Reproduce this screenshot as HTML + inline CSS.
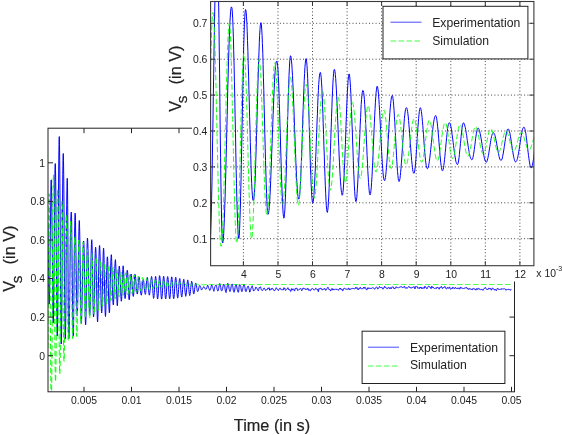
<!DOCTYPE html>
<html><head><meta charset="utf-8"><title>Vs plot</title>
<style>html,body{margin:0;padding:0;background:#fff}svg{display:block}text{font-family:"Liberation Sans",sans-serif;fill:#222}.lb{stroke:#222;stroke-width:0.2px}.tk{font-size:10.4px}.lg{font-size:12.2px}.lb{font-size:16.3px}</style></head><body>
<svg width="562" height="435" viewBox="0 0 562 435">
<rect width="562" height="435" fill="#fff"/>
<defs><clipPath id="cm"><rect x="48.0" y="128.2" width="466.5" height="263.6"/></clipPath>
<clipPath id="ci"><rect x="210.6" y="1.5" width="323.3" height="264.2"/></clipPath></defs>
<g id="main">
<g clip-path="url(#cm)" fill="none" stroke-linejoin="round">
<path d="M47.9,224.9 L48.1,238.8 L48.3,254.1 L48.5,269.4 L48.7,283.2 L48.9,294.2 L49.0,301.4 L49.2,304.1 L49.4,301.8 L49.6,294.4 L49.8,282.5 L50.0,267.0 L50.2,249.2 L50.4,230.6 L50.6,213.0 L50.8,197.9 L50.9,186.6 L51.1,180.3 L51.3,179.8 L51.5,185.5 L51.7,196.7 L51.9,212.5 L52.1,231.8 L52.3,252.9 L52.5,274.0 L52.7,293.1 L52.8,308.5 L53.0,318.8 L53.2,322.9 L53.4,320.1 L53.6,310.7 L53.8,295.6 L54.0,276.0 L54.2,253.4 L54.4,229.9 L54.6,207.4 L54.7,187.9 L54.9,173.3 L55.1,165.0 L55.3,163.6 L55.5,169.2 L55.7,181.8 L55.9,200.4 L56.1,223.4 L56.3,248.9 L56.5,274.5 L56.6,298.1 L56.8,317.3 L57.0,330.5 L57.2,336.1 L57.4,333.4 L57.6,322.5 L57.8,304.4 L58.0,280.4 L58.2,252.5 L58.4,223.2 L58.5,194.8 L58.7,170.0 L58.9,150.9 L59.1,139.2 L59.3,136.6 L59.5,144.5 L59.7,160.7 L59.9,183.7 L60.1,211.7 L60.3,242.0 L60.4,272.1 L60.6,299.4 L60.8,321.6 L61.0,336.9 L61.2,344.0 L61.4,341.9 L61.6,331.1 L61.8,312.9 L62.0,289.0 L62.2,261.5 L62.3,233.1 L62.5,206.1 L62.7,182.9 L62.9,165.5 L63.1,155.4 L63.3,153.5 L63.5,160.2 L63.7,174.4 L63.9,194.9 L64.1,219.8 L64.2,247.0 L64.4,274.0 L64.6,298.6 L64.8,318.6 L65.0,332.4 L65.2,338.9 L65.4,338.0 L65.6,329.7 L65.8,315.0 L66.0,295.1 L66.1,272.1 L66.3,247.8 L66.5,224.6 L66.7,204.5 L66.9,189.4 L67.1,180.4 L67.3,178.3 L67.5,186.3 L67.7,205.3 L67.9,232.3 L68.0,263.1 L68.2,293.0 L68.4,317.7 L68.6,333.6 L68.8,338.7 L69.0,336.4 L69.2,330.1 L69.4,320.3 L69.6,307.9 L69.8,293.4 L69.9,278.0 L70.1,262.5 L70.3,247.8 L70.5,234.8 L70.7,224.3 L70.9,216.8 L71.1,212.7 L71.3,212.1 L71.5,214.6 L71.7,222.6 L71.8,235.4 L72.0,251.9 L72.2,270.5 L72.4,289.3 L72.6,306.7 L72.8,321.1 L73.0,331.2 L73.2,336.1 L73.4,334.6 L73.6,326.7 L73.7,313.6 L73.9,296.7 L74.1,277.7 L74.3,258.6 L74.5,241.0 L74.7,226.8 L74.9,217.2 L75.1,213.2 L75.3,214.8 L75.5,220.6 L75.6,230.0 L75.8,242.2 L76.0,256.1 L76.2,270.6 L76.4,284.7 L76.6,297.0 L76.8,306.8 L77.0,313.2 L77.2,315.9 L77.4,315.3 L77.5,311.6 L77.7,304.1 L77.9,293.7 L78.1,281.1 L78.3,267.4 L78.5,253.9 L78.7,241.4 L78.9,231.1 L79.1,223.9 L79.3,220.5 L79.4,221.5 L79.6,227.2 L79.8,236.8 L80.0,249.6 L80.2,264.4 L80.4,279.8 L80.6,294.5 L80.8,307.1 L81.0,316.6 L81.2,322.2 L81.3,323.3 L81.5,321.1 L81.7,316.2 L81.9,309.1 L82.1,300.3 L82.3,290.5 L82.5,280.2 L82.7,270.0 L82.9,260.6 L83.1,252.6 L83.2,246.4 L83.4,242.4 L83.6,241.0 L83.8,241.8 L84.0,245.9 L84.2,253.5 L84.4,263.8 L84.6,275.9 L84.8,288.7 L85.0,301.1 L85.1,311.7 L85.3,319.8 L85.5,324.5 L85.7,324.9 L85.9,320.6 L86.1,312.1 L86.3,300.5 L86.5,286.9 L86.7,272.7 L86.9,259.5 L87.0,248.7 L87.2,241.3 L87.4,238.1 L87.6,239.0 L87.8,242.6 L88.0,248.6 L88.2,256.6 L88.4,265.9 L88.6,276.1 L88.8,286.2 L88.9,295.6 L89.1,303.7 L89.3,309.9 L89.5,313.8 L89.7,315.2 L89.9,314.2 L90.1,310.0 L90.3,302.9 L90.5,293.5 L90.7,282.8 L90.8,271.6 L91.0,260.9 L91.2,251.5 L91.4,244.5 L91.6,240.4 L91.8,239.7 L92.0,243.1 L92.2,250.3 L92.4,260.4 L92.6,272.5 L92.7,285.2 L92.9,297.2 L93.1,307.1 L93.3,313.9 L93.5,316.9 L93.7,316.4 L93.9,312.9 L94.1,306.8 L94.3,298.7 L94.5,289.2 L94.6,279.0 L94.8,269.1 L95.0,260.4 L95.2,253.4 L95.4,248.9 L95.6,247.2 L95.8,248.1 L96.0,252.3 L96.2,259.6 L96.4,269.3 L96.5,280.4 L96.7,291.9 L96.9,302.8 L97.1,312.0 L97.3,318.6 L97.5,321.9 L97.7,321.3 L97.9,316.8 L98.1,309.4 L98.3,299.6 L98.4,288.4 L98.6,276.8 L98.8,265.9 L99.0,256.6 L99.2,249.8 L99.4,246.0 L99.6,245.5 L99.8,248.0 L100.0,253.0 L100.2,260.1 L100.3,268.5 L100.5,277.8 L100.7,287.1 L100.9,295.7 L101.1,302.9 L101.3,308.4 L101.5,311.6 L101.7,313.0 L101.9,311.5 L102.1,306.9 L102.2,299.8 L102.4,290.7 L102.6,280.5 L102.8,270.3 L103.0,261.2 L103.2,254.0 L103.4,249.5 L103.6,248.1 L103.8,250.2 L104.0,255.5 L104.1,263.4 L104.3,273.2 L104.5,283.9 L104.7,294.4 L104.9,303.8 L105.1,311.0 L105.3,315.4 L105.5,316.5 L105.7,314.3 L105.9,309.4 L106.0,302.2 L106.2,293.6 L106.4,284.3 L106.6,275.3 L106.8,267.5 L107.0,261.5 L107.2,257.8 L107.4,256.8 L107.6,258.0 L107.8,261.7 L107.9,267.5 L108.1,275.0 L108.3,283.3 L108.5,291.9 L108.7,299.7 L108.9,306.1 L109.1,310.6 L109.3,312.8 L109.5,312.2 L109.7,308.9 L109.8,303.2 L110.0,295.7 L110.2,287.1 L110.4,278.3 L110.6,270.1 L110.8,263.0 L111.0,257.8 L111.2,254.9 L111.4,254.7 L111.6,257.2 L111.7,261.6 L111.9,267.6 L112.1,274.8 L112.3,282.4 L112.5,289.7 L112.7,296.1 L112.9,301.0 L113.1,304.0 L113.3,305.0 L113.5,304.6 L113.6,302.2 L113.8,298.3 L114.0,292.9 L114.2,286.8 L114.4,280.3 L114.6,274.0 L114.8,268.4 L115.0,263.8 L115.2,260.9 L115.4,259.6 L115.5,260.2 L115.7,263.0 L115.9,267.7 L116.1,273.9 L116.3,280.9 L116.5,288.1 L116.7,294.8 L116.9,300.3 L117.1,304.0 L117.3,305.7 L117.4,305.0 L117.6,302.5 L117.8,298.6 L118.0,293.5 L118.2,287.7 L118.4,281.9 L118.6,276.4 L118.8,271.8 L119.0,268.3 L119.2,266.4 L119.3,266.0 L119.5,266.9 L119.7,269.4 L119.9,273.1 L120.1,277.6 L120.3,282.6 L120.5,287.8 L120.7,292.5 L120.9,296.6 L121.1,299.5 L121.2,301.1 L121.4,301.2 L121.6,299.6 L121.8,296.2 L122.0,291.4 L122.2,285.7 L122.4,279.8 L122.6,274.3 L122.8,269.8 L123.0,266.8 L123.1,265.8 L123.3,266.9 L123.5,269.5 L123.7,273.3 L123.9,277.9 L124.1,282.9 L124.3,287.8 L124.5,292.3 L124.7,295.7 L124.9,297.9 L125.0,298.6 L125.2,298.4 L125.4,297.1 L125.6,294.9 L125.8,292.0 L126.0,288.5 L126.2,284.7 L126.4,280.9 L126.6,277.4 L126.8,274.5 L126.9,272.2 L127.1,270.8 L127.3,270.2 L127.5,270.8 L127.7,272.8 L127.9,276.1 L128.1,280.3 L128.3,284.9 L128.5,289.5 L128.7,293.7 L128.8,297.0 L129.0,299.1 L129.2,299.8 L129.4,299.1 L129.6,297.0 L129.8,293.9 L130.0,290.2 L130.2,286.1 L130.4,282.1 L130.6,278.6 L130.7,276.0 L130.9,274.4 L131.1,274.0 L131.3,274.4 L131.5,275.7 L131.7,277.7 L131.9,280.3 L132.1,283.2 L132.3,286.3 L132.5,289.2 L132.6,291.9 L132.8,294.0 L133.0,295.5 L133.2,296.3 L133.4,296.4 L133.6,295.2 L133.8,292.7 L134.0,289.2 L134.2,285.3 L134.4,281.4 L134.5,278.0 L134.7,275.5 L134.9,274.3 L135.1,274.4 L135.3,275.3 L135.5,276.7 L135.7,278.7 L135.9,281.1 L136.1,283.7 L136.3,286.2 L136.4,288.5 L136.6,290.6 L136.8,292.3 L137.0,293.5 L137.2,294.0 L137.4,294.0 L137.6,293.1 L137.8,291.1 L138.0,288.5 L138.2,285.5 L138.3,282.6 L138.5,280.1 L138.7,278.3 L138.9,277.2 L139.1,277.1 L139.3,277.7 L139.5,278.9 L139.7,280.6 L139.9,282.8 L140.1,285.2 L140.2,287.5 L140.4,289.8 L140.6,291.9 L140.8,293.5 L141.0,294.7 L141.2,295.2 L141.4,295.1 L141.6,294.2 L141.8,292.6 L142.0,290.5 L142.1,288.1 L142.3,285.7 L142.5,283.5 L142.7,281.6 L142.9,280.2 L143.1,279.6 L143.3,279.5 L143.5,280.0 L143.7,281.0 L143.9,282.5 L144.0,284.4 L144.2,286.5 L144.4,288.7 L144.6,290.8 L144.8,292.5 L145.0,293.7 L145.2,294.3 L145.4,294.3 L145.6,293.6 L145.8,292.3 L145.9,290.4 L146.1,288.2 L146.3,285.7 L146.5,283.1 L146.7,280.8 L146.9,278.9 L147.1,277.8 L147.3,277.4 L147.5,277.9 L147.7,279.0 L147.8,280.6 L148.0,282.7 L148.2,285.2 L148.4,287.8 L148.6,290.3 L148.8,292.3 L149.0,293.9 L149.2,294.9 L149.4,295.2 L149.6,294.8 L149.7,293.8 L149.9,292.3 L150.1,290.4 L150.3,288.2 L150.5,285.8 L150.7,283.4 L150.9,281.0 L151.1,279.0 L151.3,277.5 L151.5,276.6 L151.6,276.4 L151.8,277.2 L152.0,278.8 L152.2,281.2 L152.4,284.0 L152.6,287.2 L152.8,290.4 L153.0,293.3 L153.2,295.7 L153.4,297.5 L153.5,298.4 L153.7,298.3 L153.9,297.2 L154.1,295.3 L154.3,292.7 L154.5,289.6 L154.7,286.3 L154.9,283.1 L155.1,280.3 L155.3,278.2 L155.4,276.8 L155.6,276.3 L155.8,276.8 L156.0,278.4 L156.2,280.7 L156.4,283.5 L156.6,286.7 L156.8,290.0 L157.0,293.2 L157.2,295.9 L157.3,297.9 L157.5,298.9 L157.7,298.9 L157.9,297.9 L158.1,296.0 L158.3,293.4 L158.5,290.2 L158.7,286.8 L158.9,283.5 L159.1,280.5 L159.2,278.1 L159.4,276.4 L159.6,275.7 L159.8,276.0 L160.0,277.5 L160.2,279.9 L160.4,283.0 L160.6,286.4 L160.8,289.9 L161.0,293.1 L161.1,295.8 L161.3,297.8 L161.5,299.0 L161.7,299.1 L161.9,298.2 L162.1,296.4 L162.3,293.9 L162.5,290.8 L162.7,287.4 L162.9,284.0 L163.0,280.9 L163.2,278.5 L163.4,276.8 L163.6,276.2 L163.8,276.5 L164.0,277.8 L164.2,279.9 L164.4,282.7 L164.6,285.9 L164.8,289.3 L164.9,292.5 L165.1,295.3 L165.3,297.4 L165.5,298.6 L165.7,299.0 L165.9,298.3 L166.1,296.7 L166.3,294.2 L166.5,291.2 L166.7,287.9 L166.8,284.6 L167.0,281.6 L167.2,279.1 L167.4,277.3 L167.6,276.6 L167.8,276.7 L168.0,277.9 L168.2,279.9 L168.4,282.6 L168.6,285.6 L168.7,289.0 L168.9,292.2 L169.1,295.1 L169.3,297.2 L169.5,298.5 L169.7,298.9 L169.9,298.4 L170.1,296.9 L170.3,294.7 L170.5,291.8 L170.6,288.6 L170.8,285.3 L171.0,282.2 L171.2,279.7 L171.4,277.9 L171.6,276.9 L171.8,276.9 L172.0,277.9 L172.2,279.7 L172.4,282.3 L172.5,285.4 L172.7,288.6 L172.9,291.8 L173.1,294.6 L173.3,296.8 L173.5,298.2 L173.7,298.7 L173.9,298.2 L174.1,296.8 L174.3,294.7 L174.4,292.0 L174.6,288.9 L174.8,285.8 L175.0,282.8 L175.2,280.3 L175.4,278.4 L175.6,277.4 L175.8,277.2 L176.0,278.2 L176.2,279.9 L176.3,282.3 L176.5,285.2 L176.7,288.3 L176.9,291.3 L177.1,294.0 L177.3,296.2 L177.5,297.6 L177.7,298.1 L177.9,297.7 L178.1,296.5 L178.2,294.6 L178.4,292.2 L178.6,289.4 L178.8,286.5 L179.0,283.7 L179.2,281.3 L179.4,279.6 L179.6,278.7 L179.8,278.5 L180.0,279.1 L180.1,280.6 L180.3,282.7 L180.5,285.2 L180.7,288.0 L180.9,290.8 L181.1,293.3 L181.3,295.3 L181.5,296.6 L181.7,297.1 L181.9,296.9 L182.0,295.9 L182.2,294.2 L182.4,292.1 L182.6,289.5 L182.8,286.8 L183.0,284.2 L183.2,282.1 L183.4,280.5 L183.6,279.5 L183.8,279.2 L183.9,279.7 L184.1,280.9 L184.3,282.8 L184.5,285.1 L184.7,287.6 L184.9,290.0 L185.1,292.3 L185.3,294.1 L185.5,295.6 L185.7,296.3 L185.8,296.3 L186.0,295.5 L186.2,294.1 L186.4,292.1 L186.6,289.9 L186.8,287.5 L187.0,285.3 L187.2,283.2 L187.4,281.4 L187.6,280.3 L187.7,279.9 L187.9,280.3 L188.1,281.5 L188.3,283.0 L188.5,284.9 L188.7,287.1 L188.9,289.6 L189.1,291.8 L189.3,293.6 L189.5,294.8 L189.6,295.5 L189.8,295.5 L190.0,294.8 L190.2,293.5 L190.4,291.6 L190.6,289.5 L190.8,287.5 L191.0,285.5 L191.2,283.8 L191.4,282.4 L191.5,281.4 L191.7,281.0 L191.9,281.4 L192.1,282.3 L192.3,283.9 L192.5,285.5 L192.7,287.3 L192.9,288.9 L193.1,290.6 L193.3,292.1 L193.4,293.3 L193.6,293.9 L193.8,294.0 L194.0,293.5 L194.2,292.5 L194.4,291.0 L194.6,289.3 L194.8,287.7 L195.0,286.2 L195.2,284.9 L195.3,284.0 L195.5,283.4 L195.7,283.3 L195.9,283.3 L196.1,283.7 L196.3,284.4 L196.5,285.6 L196.7,287.1 L196.9,288.5 L197.1,289.7 L197.2,290.6 L197.4,291.2 L197.6,291.5 L197.8,291.5 L198.0,291.3 L198.2,290.7 L198.4,289.9 L198.6,289.1 L198.8,288.1 L199.0,287.2 L199.1,286.5 L199.3,286.0 L199.5,285.7 L199.7,285.4 L199.9,285.6 L200.1,286.0 L200.3,286.4 L200.5,287.0 L200.7,287.3 L200.9,287.9 L201.0,288.5 L201.2,289.4 L201.4,289.9 L201.6,290.0 L201.8,289.7 L202.0,289.4 L202.2,289.0 L202.4,288.6 L202.6,288.4 L202.8,288.1 L202.9,287.9 L203.1,287.6 L203.3,287.3 L203.5,286.8 L203.7,286.6 L203.9,286.8 L204.1,287.4 L204.3,287.7 L204.5,287.7 L204.7,287.6 L204.8,288.0 L205.0,288.4 L205.2,288.9 L205.4,289.0 L205.6,289.2 L205.8,289.2 L206.0,289.2 L206.2,289.1 L206.4,289.0 L206.6,288.6 L206.7,288.1 L206.9,287.5 L207.1,286.9 L207.3,286.1 L207.5,285.5 L207.7,285.2 L207.9,285.5 L208.1,285.9 L208.3,286.5 L208.5,287.0 L208.6,287.5 L208.8,287.9 L209.0,288.5 L209.2,289.1 L209.4,290.0 L209.6,290.3 L209.8,290.4 L210.0,290.1 L210.2,290.0 L210.4,289.8 L210.5,289.5 L210.7,288.8 L210.9,287.9 L211.1,286.6 L211.3,285.8 L211.5,285.0 L211.7,284.9 L211.9,284.9 L212.1,285.6 L212.3,286.3 L212.4,286.7 L212.6,287.1 L212.8,287.7 L213.0,288.4 L213.2,289.0 L213.4,289.7 L213.6,290.6 L213.8,291.2 L214.0,291.3 L214.2,290.5 L214.3,289.6 L214.5,288.5 L214.7,287.6 L214.9,286.7 L215.1,286.2 L215.3,285.7 L215.5,285.5 L215.7,285.3 L215.9,285.0 L216.1,284.9 L216.2,284.9 L216.4,285.4 L216.6,286.4 L216.8,287.6 L217.0,288.7 L217.2,289.4 L217.4,290.3 L217.6,290.8 L217.8,291.1 L218.0,291.0 L218.1,290.8 L218.3,290.4 L218.5,289.7 L218.7,288.4 L218.9,287.2 L219.1,286.1 L219.3,285.2 L219.5,284.2 L219.7,283.6 L219.9,283.5 L220.0,284.0 L220.2,284.7 L220.4,285.3 L220.6,286.2 L220.8,287.6 L221.0,289.1 L221.2,290.3 L221.4,290.7 L221.6,290.7 L221.8,290.6 L221.9,290.6 L222.1,290.5 L222.3,290.3 L222.5,289.4 L222.7,288.4 L222.9,287.1 L223.1,286.1 L223.3,285.1 L223.5,284.6 L223.7,284.3 L223.8,284.6 L224.0,284.7 L224.2,285.1 L224.4,284.9 L224.6,285.3 L224.8,286.1 L225.0,288.0 L225.2,289.7 L225.4,291.0 L225.6,291.4 L225.7,292.2 L225.9,292.4 L226.1,292.6 L226.3,291.5 L226.5,290.3 L226.7,289.0 L226.9,288.1 L227.1,287.0 L227.3,285.7 L227.5,284.3 L227.6,283.5 L227.8,283.3 L228.0,283.5 L228.2,283.8 L228.4,284.2 L228.6,285.3 L228.8,286.7 L229.0,288.2 L229.2,289.2 L229.4,290.1 L229.5,290.6 L229.7,291.2 L229.9,291.5 L230.1,291.5 L230.3,291.0 L230.5,290.5 L230.7,289.4 L230.9,288.2 L231.1,286.8 L231.3,285.8 L231.4,285.3 L231.6,284.9 L231.8,284.5 L232.0,284.1 L232.2,284.0 L232.4,284.7 L232.6,285.6 L232.8,286.7 L233.0,287.7 L233.2,289.2 L233.3,290.5 L233.5,291.4 L233.7,291.8 L233.9,292.2 L234.1,292.3 L234.3,291.8 L234.5,291.2 L234.7,289.9 L234.9,288.9 L235.1,287.4 L235.2,286.5 L235.4,285.8 L235.6,285.2 L235.8,284.7 L236.0,284.3 L236.2,284.5 L236.4,285.1 L236.6,286.1 L236.8,287.0 L237.0,288.2 L237.1,289.0 L237.3,289.9 L237.5,290.5 L237.7,291.2 L237.9,291.8 L238.1,292.0 L238.3,292.3 L238.5,291.9 L238.7,291.0 L238.9,289.4 L239.0,287.3 L239.2,285.9 L239.4,284.9 L239.6,284.8 L239.8,284.6 L240.0,284.9 L240.2,285.2 L240.4,285.5 L240.6,285.9 L240.8,286.6 L240.9,287.8 L241.1,288.9 L241.3,290.2 L241.5,290.9 L241.7,291.5 L241.9,291.5 L242.1,291.5 L242.3,291.0 L242.5,290.3 L242.7,289.3 L242.8,288.4 L243.0,287.6 L243.2,286.7 L243.4,285.8 L243.6,285.0 L243.8,284.4 L244.0,284.1 L244.2,284.5 L244.4,285.2 L244.6,285.9 L244.7,286.4 L244.9,287.2 L245.1,288.8 L245.3,290.2 L245.5,291.3 L245.7,291.2 L245.9,291.4 L246.1,291.2 L246.3,291.3 L246.5,290.6 L246.6,290.0 L246.8,289.1 L247.0,288.5 L247.2,287.8 L247.4,287.1 L247.6,286.6 L247.8,286.3 L248.0,286.1 L248.2,286.1 L248.4,286.2 L248.5,286.9 L248.7,287.5 L248.9,288.4 L249.1,289.0 L249.3,290.1 L249.5,290.9 L249.7,292.1 L249.9,292.1 L250.1,291.7 L250.3,290.8 L250.4,290.5 L250.6,290.0 L250.8,289.3 L251.0,288.2 L251.2,287.6 L251.4,287.4 L251.6,287.5 L251.8,286.9 L252.0,286.2 L252.2,285.7 L252.3,286.2 L252.5,286.8 L252.7,287.7 L252.9,288.1 L253.1,289.3 L253.3,290.2 L253.5,291.0 L253.7,290.9 L253.9,290.7 L254.1,290.3 L254.2,290.4 L254.4,290.1 L254.6,290.0 L254.8,289.8 L255.0,289.7 L255.2,289.1 L255.4,288.3 L255.6,287.4 L255.8,287.1 L256.0,287.0 L256.1,287.2 L256.3,287.6 L256.5,287.7 L256.7,288.1 L256.9,288.2 L257.1,288.7 L257.3,289.2 L257.5,289.7 L257.7,290.0 L257.9,290.3 L258.0,290.8 L258.2,290.8 L258.4,290.7 L258.6,290.0 L258.8,289.4 L259.0,288.4 L259.2,287.6 L259.4,287.3 L259.6,287.5 L259.8,287.6 L259.9,287.4 L260.1,287.0 L260.3,286.8 L260.5,286.9 L260.7,287.3 L260.9,288.3 L261.1,289.1 L261.3,289.7 L261.5,289.8 L261.7,289.9 L261.8,290.0 L262.0,290.0 L262.2,290.3 L262.4,290.5 L262.6,290.6 L262.8,290.1 L263.0,289.7 L263.2,289.2 L263.4,289.0 L263.6,288.7 L263.7,288.4 L263.9,288.0 L264.1,287.9 L264.3,288.0 L264.5,288.5 L264.7,288.9 L264.9,289.3 L265.1,289.4 L265.3,289.8 L265.5,290.2 L265.6,290.6 L265.8,290.4 L266.0,290.1 L266.2,289.8 L266.4,290.0 L266.6,289.9 L266.8,289.7 L267.0,289.2 L267.2,289.2 L267.4,289.3 L267.5,289.1 L267.7,288.7 L267.9,288.0 L268.1,287.9 L268.3,288.1 L268.5,288.5 L268.7,288.6 L268.9,288.1 L269.1,287.7 L269.3,287.9 L269.4,288.8 L269.6,290.0 L269.8,290.3 L270.0,290.2 L270.2,289.7 L270.4,289.7 L270.6,289.5 L270.8,289.2 L271.0,288.8 L271.2,288.8 L271.3,289.2 L271.5,289.4 L271.7,288.9 L271.9,288.2 L272.1,288.1 L272.3,288.3 L272.5,288.6 L272.7,288.5 L272.9,288.7 L273.1,289.1 L273.2,289.7 L273.4,289.9 L273.6,289.8 L273.8,289.8 L274.0,290.2 L274.2,290.8 L274.4,290.9 L274.6,290.7 L274.8,290.3 L275.0,290.2 L275.1,289.9 L275.3,289.6 L275.5,289.2 L275.7,288.8 L275.9,288.3 L276.1,287.8 L276.3,287.7 L276.5,288.0 L276.7,288.6 L276.9,289.1 L277.0,289.3 L277.2,289.2 L277.4,289.2 L277.6,289.3 L277.8,289.6 L278.0,289.9 L278.2,290.2 L278.4,290.6 L278.6,290.3 L278.8,290.0 L278.9,289.4 L279.1,289.3 L279.3,289.0 L279.5,288.7 L279.7,288.3 L279.9,288.2 L280.1,288.2 L280.3,288.3 L280.5,288.4 L280.7,288.5 L280.8,288.9 L281.0,289.4 L281.2,289.8 L281.4,290.0 L281.6,290.0 L281.8,289.8 L282.0,289.9 L282.2,289.6 L282.4,289.7 L282.6,289.7 L282.7,289.9 L282.9,290.1 L283.1,290.1 L283.3,289.8 L283.5,288.9 L283.7,288.1 L283.9,287.7 L284.1,288.1 L284.3,288.6 L284.5,288.7 L284.6,288.2 L284.8,288.2 L285.0,288.5 L285.2,289.5 L285.4,290.1 L285.6,290.4 L285.8,290.2 L286.0,289.9 L286.2,289.8 L286.4,289.5 L286.5,289.4 L286.7,289.2 L286.9,289.1 L287.1,288.9 L287.3,288.5 L287.5,288.5 L287.7,288.1 L287.9,287.7 L288.1,287.9 L288.3,288.5 L288.4,289.6 L288.6,289.8 L288.8,290.0 L289.0,289.6 L289.2,289.6 L289.4,289.5 L289.6,289.9 L289.8,289.9 L290.0,290.2 L290.2,290.1 L290.3,290.6 L290.5,291.1 L290.7,291.5 L290.9,291.2 L291.1,290.2 L291.3,289.2 L291.5,288.6 L291.7,288.9 L291.9,289.6 L292.1,290.1 L292.2,290.0 L292.4,289.9 L292.6,289.2 L292.8,289.1 L293.0,288.8 L293.2,289.2 L293.4,289.1 L293.6,289.3 L293.8,289.5 L294.0,289.9 L294.1,290.3 L294.3,291.0 L294.5,291.1 L294.7,290.7 L294.9,289.8 L295.1,288.9 L295.3,288.5 L295.5,288.2 L295.7,288.5 L295.9,288.6 L296.0,288.6 L296.2,288.4 L296.4,288.4 L296.6,288.3 L296.8,288.0 L297.0,288.2 L297.2,288.9 L297.4,289.9 L297.6,290.4 L297.8,290.4 L297.9,290.3 L298.1,290.1 L298.3,290.1 L298.5,289.9 L298.7,290.0 L298.9,289.8 L299.1,289.8 L299.3,289.5 L299.5,289.1 L299.7,288.8 L299.8,288.7 L300.0,288.8 L300.2,288.7 L300.4,288.6 L300.6,288.5 L300.8,288.6 L301.0,288.8 L301.2,289.4 L301.4,290.2 L301.6,290.6 L301.7,290.7 L301.9,290.4 L302.1,290.3 L302.3,289.9 L302.5,289.4 L302.7,288.7 L302.9,288.1 L303.1,288.1 L303.3,287.9 L303.5,288.0 L303.6,288.2 L303.8,288.8 L304.0,288.8 L304.2,288.7 L304.4,288.7 L304.6,289.0 L304.8,289.0 L305.0,289.2 L305.2,289.3 L305.4,289.6 L305.5,289.5 L305.7,289.1 L305.9,288.7 L306.1,288.9 L306.3,289.1 L306.5,289.4 L306.7,289.5 L306.9,289.7 L307.1,289.6 L307.3,289.4 L307.4,288.9 L307.6,288.4 L307.8,288.3 L308.0,288.3 L308.2,289.0 L308.4,289.5 L308.6,290.3 L308.8,290.5 L309.0,290.3 L309.2,290.0 L309.3,289.7 L309.5,289.8 L309.7,290.1 L309.9,290.4 L310.1,290.8 L310.3,290.9 L310.5,290.6 L310.7,290.3 L310.9,289.7 L311.1,289.4 L311.2,288.9 L311.4,289.0 L311.6,289.0 L311.8,289.2 L312.0,289.1 L312.2,288.8 L312.4,288.5 L312.6,288.4 L312.8,288.7 L313.0,288.9 L313.1,289.0 L313.3,289.0 L313.5,289.5 L313.7,289.9 L313.9,290.1 L314.1,290.0 L314.3,290.0 L314.5,290.0 L314.7,289.8 L314.9,289.5 L315.0,289.4 L315.2,289.1 L315.4,288.7 L315.6,288.3 L315.8,288.2 L316.0,288.3 L316.2,288.5 L316.4,288.6 L316.6,288.9 L316.8,289.2 L316.9,289.6 L317.1,289.5 L317.3,289.3 L317.5,289.3 L317.7,289.8 L317.9,290.4 L318.1,291.3 L318.3,291.7 L318.5,291.4 L318.7,290.1 L318.8,289.1 L319.0,288.6 L319.2,288.8 L319.4,288.7 L319.6,288.8 L319.8,288.9 L320.0,289.1 L320.2,288.9 L320.4,288.6 L320.6,288.3 L320.7,288.1 L320.9,288.0 L321.1,288.1 L321.3,288.6 L321.5,289.2 L321.7,289.6 L321.9,289.6 L322.1,289.5 L322.3,289.4 L322.5,289.6 L322.6,289.9 L322.8,289.9 L323.0,289.8 L323.2,289.4 L323.4,289.1 L323.6,289.0 L323.8,288.9 L324.0,289.2 L324.2,288.8 L324.4,288.8 L324.5,288.4 L324.7,288.6 L324.9,288.6 L325.1,288.9 L325.3,289.5 L325.5,290.1 L325.7,290.4 L325.9,289.9 L326.1,289.5 L326.3,289.3 L326.4,289.5 L326.6,289.4 L326.8,289.3 L327.0,288.6 L327.2,288.3 L327.4,287.7 L327.6,287.8 L327.8,287.4 L328.0,287.5 L328.2,287.5 L328.3,287.8 L328.5,288.3 L328.7,288.7 L328.9,289.5 L329.1,289.6 L329.3,289.8 L329.5,289.7 L329.7,289.6 L329.9,289.6 L330.1,289.5 L330.2,289.9 L330.4,290.1 L330.6,290.8 L330.8,290.7 L331.0,290.6 L331.2,289.8 L331.4,289.5 L331.6,289.0 L331.8,288.8 L332.0,288.4 L332.1,288.6 L332.3,289.2 L332.5,290.0 L332.7,290.1 L332.9,289.7 L333.1,289.2 L333.3,289.0 L333.5,289.1 L333.7,289.5 L333.9,290.0 L334.0,290.1 L334.2,289.7 L334.4,289.5 L334.6,289.4 L334.8,289.6 L335.0,289.5 L335.2,289.4 L335.4,289.1 L335.6,289.0 L335.8,289.0 L335.9,289.1 L336.1,289.4 L336.3,289.4 L336.5,289.5 L336.7,289.1 L336.9,289.0 L337.1,288.9 L337.3,289.1 L337.5,289.3 L337.7,289.5 L337.8,289.8 L338.0,290.0 L338.2,290.3 L338.4,290.3 L338.6,289.9 L338.8,289.4 L339.0,289.0 L339.2,289.0 L339.4,288.8 L339.6,288.4 L339.7,288.3 L339.9,288.7 L340.1,289.2 L340.3,288.8 L340.5,288.3 L340.7,288.2 L340.9,288.9 L341.1,289.5 L341.3,289.7 L341.5,289.9 L341.6,289.9 L341.8,289.9 L342.0,289.5 L342.2,289.5 L342.4,289.9 L342.6,290.6 L342.8,290.8 L343.0,290.7 L343.2,290.1 L343.4,289.5 L343.5,288.8 L343.7,288.5 L343.9,288.4 L344.1,288.3 L344.3,288.2 L344.5,288.2 L344.7,288.6 L344.9,288.9 L345.1,289.0 L345.3,288.9 L345.4,288.8 L345.6,289.0 L345.8,289.1 L346.0,289.4 L346.2,289.2 L346.4,289.2 L346.6,289.0 L346.8,288.9 L347.0,288.8 L347.2,288.8 L347.3,288.9 L347.5,289.1 L347.7,289.4 L347.9,289.6 L348.1,289.4 L348.3,289.0 L348.5,288.4 L348.7,288.0 L348.9,287.9 L349.1,288.1 L349.2,288.7 L349.4,289.4 L349.6,289.8 L349.8,289.8 L350.0,289.6 L350.2,289.4 L350.4,289.5 L350.6,289.2 L350.8,289.2 L351.0,288.8 L351.1,288.9 L351.3,288.6 L351.5,288.8 L351.7,288.8 L351.9,288.8 L352.1,288.5 L352.3,288.4 L352.5,288.5 L352.7,288.4 L352.9,288.5 L353.0,288.2 L353.2,288.2 L353.4,288.4 L353.6,288.7 L353.8,288.7 L354.0,288.6 L354.2,288.6 L354.4,288.8 L354.6,289.0 L354.8,289.2 L354.9,289.1 L355.1,289.0 L355.3,288.5 L355.5,288.0 L355.7,287.4 L355.9,287.3 L356.1,287.4 L356.3,287.9 L356.5,288.3 L356.7,288.3 L356.8,288.0 L357.0,287.6 L357.2,288.1 L357.4,288.5 L357.6,289.1 L357.8,289.3 L358.0,289.7 L358.2,290.0 L358.4,289.6 L358.6,288.9 L358.7,288.5 L358.9,288.5 L359.1,288.8 L359.3,288.8 L359.5,288.7 L359.7,288.2 L359.9,287.8 L360.1,287.2 L360.3,287.3 L360.5,287.5 L360.6,288.1 L360.8,288.6 L361.0,288.8 L361.2,288.7 L361.4,288.7 L361.6,288.9 L361.8,289.1 L362.0,289.0 L362.2,288.9 L362.4,288.9 L362.5,288.7 L362.7,288.5 L362.9,288.4 L363.1,288.5 L363.3,288.3 L363.5,287.6 L363.7,287.1 L363.9,287.4 L364.1,288.1 L364.3,288.4 L364.4,287.9 L364.6,287.6 L364.8,287.3 L365.0,287.4 L365.2,287.3 L365.4,287.7 L365.6,288.3 L365.8,288.7 L366.0,288.9 L366.2,289.1 L366.3,289.5 L366.5,289.9 L366.7,290.1 L366.9,289.9 L367.1,289.2 L367.3,288.3 L367.5,287.8 L367.7,288.1 L367.9,288.5 L368.1,288.5 L368.2,288.0 L368.4,287.9 L368.6,288.2 L368.8,288.4 L369.0,288.3 L369.2,287.8 L369.4,288.1 L369.6,288.2 L369.8,288.5 L370.0,288.2 L370.1,288.4 L370.3,288.4 L370.5,288.4 L370.7,288.3 L370.9,288.2 L371.1,288.5 L371.3,288.4 L371.5,288.4 L371.7,288.1 L371.9,288.1 L372.0,288.0 L372.2,288.0 L372.4,287.8 L372.6,287.7 L372.8,287.7 L373.0,287.7 L373.2,287.7 L373.4,287.8 L373.6,288.1 L373.8,288.3 L373.9,288.5 L374.1,288.7 L374.3,289.0 L374.5,289.2 L374.7,289.2 L374.9,289.1 L375.1,288.7 L375.3,288.3 L375.5,287.9 L375.7,287.9 L375.8,287.8 L376.0,287.7 L376.2,287.4 L376.4,287.2 L376.6,286.9 L376.8,286.9 L377.0,287.3 L377.2,287.9 L377.4,288.5 L377.6,288.8 L377.7,289.1 L377.9,289.0 L378.1,288.6 L378.3,288.3 L378.5,288.1 L378.7,288.2 L378.9,288.1 L379.1,287.6 L379.3,286.7 L379.5,286.4 L379.6,286.6 L379.8,286.8 L380.0,287.0 L380.2,287.2 L380.4,287.5 L380.6,287.8 L380.8,287.6 L381.0,287.7 L381.2,287.8 L381.4,288.0 L381.5,287.7 L381.7,287.4 L381.9,287.3 L382.1,287.7 L382.3,288.1 L382.5,288.5 L382.7,288.8 L382.9,289.2 L383.1,289.0 L383.3,288.9 L383.4,288.2 L383.6,288.1 L383.8,287.9 L384.0,288.0 L384.2,287.5 L384.4,286.9 L384.6,286.3 L384.8,286.5 L385.0,287.0 L385.2,287.5 L385.3,287.6 L385.5,287.5 L385.7,287.6 L385.9,287.5 L386.1,287.7 L386.3,287.7 L386.5,288.2 L386.7,288.5 L386.9,288.8 L387.1,288.7 L387.2,288.6 L387.4,288.5 L387.6,288.7 L387.8,288.6 L388.0,288.3 L388.2,287.6 L388.4,287.2 L388.6,287.1 L388.8,287.3 L389.0,287.5 L389.1,287.8 L389.3,287.9 L389.5,288.3 L389.7,288.7 L389.9,288.8 L390.1,288.4 L390.3,287.8 L390.5,287.6 L390.7,287.8 L390.9,288.2 L391.0,288.7 L391.2,288.6 L391.4,288.5 L391.6,287.8 L391.8,287.4 L392.0,286.9 L392.2,286.8 L392.4,286.9 L392.6,287.1 L392.8,287.2 L392.9,287.3 L393.1,287.2 L393.3,287.2 L393.5,287.2 L393.7,287.8 L393.9,288.5 L394.1,289.0 L394.3,289.0 L394.5,288.7 L394.7,288.5 L394.8,288.2 L395.0,288.2 L395.2,288.3 L395.4,288.3 L395.6,288.1 L395.8,287.4 L396.0,287.0 L396.2,286.7 L396.4,287.1 L396.6,287.3 L396.7,287.5 L396.9,287.6 L397.1,287.7 L397.3,287.5 L397.5,287.6 L397.7,287.6 L397.9,287.9 L398.1,287.9 L398.3,288.1 L398.5,287.9 L398.6,287.8 L398.8,287.6 L399.0,287.4 L399.2,287.1 L399.4,287.0 L399.6,287.2 L399.8,287.4 L400.0,287.2 L400.2,286.8 L400.4,286.7 L400.5,286.6 L400.7,286.7 L400.9,286.7 L401.1,286.6 L401.3,286.7 L401.5,286.7 L401.7,287.2 L401.9,287.4 L402.1,287.6 L402.3,287.6 L402.4,287.6 L402.6,287.6 L402.8,287.7 L403.0,287.4 L403.2,287.2 L403.4,286.9 L403.6,287.1 L403.8,287.3 L404.0,287.3 L404.2,286.9 L404.3,286.4 L404.5,286.4 L404.7,286.5 L404.9,287.0 L405.1,287.6 L405.3,288.1 L405.5,288.3 L405.7,288.0 L405.9,287.8 L406.1,287.7 L406.2,287.7 L406.4,287.9 L406.6,287.8 L406.8,288.3 L407.0,288.3 L407.2,288.3 L407.4,287.9 L407.6,287.7 L407.8,287.6 L408.0,287.4 L408.1,287.2 L408.3,286.8 L408.5,286.6 L408.7,286.5 L408.9,286.4 L409.1,286.5 L409.3,286.6 L409.5,287.1 L409.7,287.5 L409.9,287.9 L410.0,287.7 L410.2,287.6 L410.4,287.6 L410.6,288.0 L410.8,288.2 L411.0,288.2 L411.2,288.2 L411.4,288.2 L411.6,287.8 L411.8,287.6 L411.9,287.2 L412.1,287.2 L412.3,287.2 L412.5,287.4 L412.7,287.7 L412.9,287.6 L413.1,287.4 L413.3,287.0 L413.5,286.8 L413.7,286.8 L413.8,287.0 L414.0,287.0 L414.2,286.8 L414.4,287.1 L414.6,287.8 L414.8,288.7 L415.0,288.9 L415.2,288.6 L415.4,287.6 L415.6,286.9 L415.7,286.6 L415.9,287.0 L416.1,287.1 L416.3,286.9 L416.5,286.6 L416.7,286.6 L416.9,286.8 L417.1,286.8 L417.3,286.7 L417.5,287.1 L417.6,287.7 L417.8,288.2 L418.0,288.3 L418.2,288.3 L418.4,288.0 L418.6,288.1 L418.8,287.9 L419.0,287.8 L419.2,287.5 L419.4,287.9 L419.5,288.4 L419.7,288.6 L419.9,288.0 L420.1,287.2 L420.3,287.1 L420.5,287.6 L420.7,287.9 L420.9,287.6 L421.1,287.3 L421.3,287.1 L421.4,287.6 L421.6,288.2 L421.8,288.8 L422.0,288.9 L422.2,288.7 L422.4,288.1 L422.6,287.8 L422.8,287.6 L423.0,287.8 L423.2,287.6 L423.3,287.7 L423.5,287.8 L423.7,288.0 L423.9,288.5 L424.1,288.4 L424.3,288.0 L424.5,287.0 L424.7,286.5 L424.9,286.5 L425.1,286.9 L425.2,286.9 L425.4,287.1 L425.6,286.8 L425.8,287.2 L426.0,287.3 L426.2,288.0 L426.4,288.1 L426.6,288.6 L426.8,288.6 L427.0,288.8 L427.1,288.6 L427.3,288.5 L427.5,288.0 L427.7,287.5 L427.9,287.0 L428.1,286.7 L428.3,286.5 L428.5,286.2 L428.7,286.0 L428.9,285.9 L429.0,286.0 L429.2,286.2 L429.4,286.8 L429.6,287.0 L429.8,287.3 L430.0,287.0 L430.2,287.2 L430.4,287.2 L430.6,287.5 L430.8,288.1 L430.9,288.6 L431.1,288.6 L431.3,287.8 L431.5,286.8 L431.7,286.3 L431.9,286.2 L432.1,286.7 L432.3,287.2 L432.5,287.6 L432.7,287.4 L432.8,287.0 L433.0,286.9 L433.2,287.0 L433.4,287.3 L433.6,287.8 L433.8,288.1 L434.0,288.2 L434.2,288.2 L434.4,288.5 L434.6,288.7 L434.7,288.8 L434.9,288.4 L435.1,288.3 L435.3,288.2 L435.5,288.2 L435.7,288.1 L435.9,288.3 L436.1,288.4 L436.3,288.6 L436.5,288.3 L436.6,287.8 L436.8,287.2 L437.0,287.0 L437.2,287.2 L437.4,287.4 L437.6,287.6 L437.8,287.3 L438.0,287.3 L438.2,287.5 L438.4,288.0 L438.5,288.4 L438.7,288.7 L438.9,289.0 L439.1,289.2 L439.3,289.2 L439.5,288.7 L439.7,287.9 L439.9,287.3 L440.1,287.0 L440.3,287.2 L440.4,287.2 L440.6,287.4 L440.8,287.5 L441.0,287.4 L441.2,286.6 L441.4,286.4 L441.6,286.6 L441.8,287.4 L442.0,287.9 L442.2,288.3 L442.3,288.5 L442.5,288.7 L442.7,288.3 L442.9,287.8 L443.1,287.4 L443.3,287.6 L443.5,287.8 L443.7,287.8 L443.9,287.2 L444.1,287.0 L444.2,287.0 L444.4,287.2 L444.6,287.1 L444.8,286.5 L445.0,286.5 L445.2,286.8 L445.4,287.3 L445.6,287.5 L445.8,287.6 L446.0,288.1 L446.1,288.8 L446.3,289.1 L446.5,289.0 L446.7,288.7 L446.9,288.6 L447.1,288.3 L447.3,287.6 L447.5,287.4 L447.7,287.5 L447.9,287.9 L448.0,287.8 L448.2,287.7 L448.4,287.9 L448.6,288.3 L448.8,288.4 L449.0,288.3 L449.2,287.8 L449.4,287.2 L449.6,286.9 L449.8,287.1 L449.9,287.6 L450.1,288.2 L450.3,288.7 L450.5,289.1 L450.7,289.3 L450.9,289.2 L451.1,288.9 L451.3,288.7 L451.5,288.3 L451.7,288.1 L451.8,288.2 L452.0,288.6 L452.2,288.7 L452.4,288.1 L452.6,287.3 L452.8,287.2 L453.0,287.5 L453.2,288.0 L453.4,288.1 L453.6,288.1 L453.7,287.9 L453.9,287.7 L454.1,287.9 L454.3,288.4 L454.5,288.7 L454.7,288.7 L454.9,288.6 L455.1,288.1 L455.3,287.9 L455.5,287.4 L455.6,287.5 L455.8,287.6 L456.0,288.2 L456.2,288.4 L456.4,288.6 L456.6,288.5 L456.8,288.8 L457.0,288.6 L457.2,288.5 L457.4,288.0 L457.5,287.9 L457.7,288.0 L457.9,288.4 L458.1,288.7 L458.3,288.6 L458.5,288.4 L458.7,288.0 L458.9,287.8 L459.1,287.9 L459.3,288.3 L459.4,288.8 L459.6,289.1 L459.8,289.2 L460.0,288.7 L460.2,288.1 L460.4,287.2 L460.6,287.1 L460.8,287.3 L461.0,287.9 L461.2,287.8 L461.3,287.8 L461.5,287.9 L461.7,288.2 L461.9,288.4 L462.1,288.5 L462.3,288.4 L462.5,288.4 L462.7,288.3 L462.9,288.4 L463.1,288.5 L463.2,288.6 L463.4,288.6 L463.6,288.6 L463.8,288.3 L464.0,288.2 L464.2,288.1 L464.4,288.2 L464.6,288.3 L464.8,288.3 L465.0,288.2 L465.1,287.9 L465.3,287.7 L465.5,287.8 L465.7,288.0 L465.9,288.2 L466.1,288.0 L466.3,287.8 L466.5,287.4 L466.7,287.7 L466.9,288.1 L467.0,288.6 L467.2,288.7 L467.4,288.5 L467.6,288.1 L467.8,288.2 L468.0,288.7 L468.2,289.2 L468.4,289.5 L468.6,289.2 L468.8,289.1 L468.9,288.8 L469.1,288.6 L469.3,288.5 L469.5,288.7 L469.7,289.1 L469.9,289.1 L470.1,288.9 L470.3,288.7 L470.5,289.1 L470.7,289.3 L470.8,289.4 L471.0,289.1 L471.2,289.1 L471.4,289.2 L471.6,289.4 L471.8,289.8 L472.0,290.0 L472.2,290.0 L472.4,289.4 L472.6,289.0 L472.7,288.7 L472.9,288.9 L473.1,288.9 L473.3,289.1 L473.5,288.8 L473.7,288.5 L473.9,288.3 L474.1,288.4 L474.3,288.6 L474.5,288.9 L474.6,289.2 L474.8,289.6 L475.0,289.4 L475.2,289.3 L475.4,289.1 L475.6,289.5 L475.8,289.9 L476.0,290.2 L476.2,289.9 L476.4,289.3 L476.5,288.8 L476.7,288.6 L476.9,288.6 L477.1,288.7 L477.3,289.0 L477.5,289.4 L477.7,289.4 L477.9,288.8 L478.1,288.4 L478.3,288.3 L478.4,288.7 L478.6,288.9 L478.8,288.7 L479.0,288.5 L479.2,288.6 L479.4,289.1 L479.6,289.4 L479.8,289.5 L480.0,289.5 L480.2,289.7 L480.3,289.7 L480.5,289.8 L480.7,289.5 L480.9,289.4 L481.1,289.4 L481.3,289.3 L481.5,289.2 L481.7,289.0 L481.9,289.3 L482.1,289.4 L482.2,289.7 L482.4,290.0 L482.6,290.1 L482.8,290.1 L483.0,290.2 L483.2,290.3 L483.4,290.0 L483.6,289.3 L483.8,288.8 L484.0,288.6 L484.1,288.4 L484.3,288.3 L484.5,288.2 L484.7,288.4 L484.9,288.1 L485.1,287.8 L485.3,287.4 L485.5,287.7 L485.7,288.0 L485.9,288.5 L486.0,288.9 L486.2,289.2 L486.4,289.2 L486.6,289.1 L486.8,289.3 L487.0,289.5 L487.2,289.7 L487.4,289.3 L487.6,289.1 L487.8,289.0 L487.9,289.2 L488.1,289.3 L488.3,289.2 L488.5,288.6 L488.7,288.2 L488.9,287.9 L489.1,288.3 L489.3,288.6 L489.5,289.0 L489.7,288.9 L489.8,288.7 L490.0,288.9 L490.2,288.9 L490.4,288.9 L490.6,288.4 L490.8,288.7 L491.0,289.4 L491.2,290.1 L491.4,290.2 L491.6,289.9 L491.7,289.7 L491.9,289.1 L492.1,288.7 L492.3,288.2 L492.5,288.2 L492.7,288.2 L492.9,288.1 L493.1,288.2 L493.3,288.5 L493.5,288.8 L493.6,288.9 L493.8,289.2 L494.0,289.6 L494.2,290.0 L494.4,290.2 L494.6,289.9 L494.8,289.4 L495.0,289.0 L495.2,289.2 L495.4,289.3 L495.5,289.6 L495.7,289.8 L495.9,290.3 L496.1,290.5 L496.3,290.8 L496.5,290.4 L496.7,289.9 L496.9,289.3 L497.1,288.8 L497.3,288.5 L497.4,288.3 L497.6,288.5 L497.8,288.6 L498.0,288.6 L498.2,288.5 L498.4,288.8 L498.6,289.3 L498.8,289.5 L499.0,289.4 L499.2,289.1 L499.3,289.2 L499.5,289.4 L499.7,289.5 L499.9,289.3 L500.1,289.1 L500.3,289.0 L500.5,289.0 L500.7,289.3 L500.9,289.5 L501.1,289.7 L501.2,289.5 L501.4,289.1 L501.6,288.7 L501.8,288.7 L502.0,288.9 L502.2,289.1 L502.4,289.1 L502.6,288.9 L502.8,289.0 L503.0,289.2 L503.1,289.2 L503.3,289.0 L503.5,288.9 L503.7,289.0 L503.9,289.1 L504.1,288.9 L504.3,288.8 L504.5,288.6 L504.7,288.9 L504.9,289.1 L505.0,289.4 L505.2,289.3 L505.4,289.4 L505.6,289.9 L505.8,290.1 L506.0,290.3 L506.2,289.9 L506.4,289.5 L506.6,289.3 L506.8,289.5 L506.9,289.5 L507.1,289.6 L507.3,289.3 L507.5,289.5 L507.7,289.5 L507.9,289.5 L508.1,289.6 L508.3,289.6 L508.5,289.5 L508.7,289.1 L508.8,289.0 L509.0,289.2 L509.2,289.3 L509.4,289.3 L509.6,289.5 L509.8,289.9 L510.0,290.3 L510.2,290.3 L510.4,290.2 L510.6,290.0 L510.7,289.8 L510.9,289.3 L511.1,289.1 L511.3,289.2" stroke="#0000ff" stroke-width="1"/>
<path d="M47.9,347.9 L48.1,316.3 L48.3,284.3 L48.5,254.2 L48.7,228.4 L48.9,208.8 L49.0,196.9 L49.2,193.8 L49.4,199.6 L49.6,213.6 L49.8,234.8 L50.0,261.2 L50.2,290.9 L50.4,321.3 L50.6,350.1 L50.8,374.8 L50.9,393.5 L51.1,404.7 L51.3,407.2 L51.5,400.7 L51.7,386.0 L51.9,364.0 L52.1,336.4 L52.3,305.4 L52.5,273.3 L52.7,242.6 L52.8,215.6 L53.0,194.3 L53.2,180.4 L53.4,174.7 L53.6,177.7 L53.8,189.8 L54.0,209.7 L54.2,234.9 L54.4,263.5 L54.6,293.0 L54.7,321.1 L54.9,345.7 L55.1,364.8 L55.3,377.0 L55.5,381.6 L55.7,379.0 L55.9,368.8 L56.1,351.8 L56.3,329.6 L56.5,303.9 L56.6,276.7 L56.8,250.3 L57.0,226.7 L57.2,207.8 L57.4,195.0 L57.6,189.2 L57.8,190.9 L58.0,199.8 L58.2,215.0 L58.4,235.6 L58.5,259.8 L58.7,285.7 L58.9,311.2 L59.1,334.4 L59.3,353.5 L59.5,367.0 L59.7,374.0 L59.9,373.6 L60.1,366.3 L60.3,352.6 L60.4,333.9 L60.6,311.4 L60.8,287.2 L61.0,263.1 L61.2,241.0 L61.4,222.5 L61.6,209.2 L61.8,201.9 L62.0,201.2 L62.2,207.0 L62.3,218.9 L62.5,235.8 L62.7,256.2 L62.9,278.5 L63.1,301.0 L63.3,321.8 L63.5,339.4 L63.7,352.4 L63.9,359.9 L64.1,361.4 L64.2,356.9 L64.4,346.8 L64.6,331.8 L64.8,313.3 L65.0,293.0 L65.2,272.4 L65.4,253.2 L65.6,236.8 L65.8,224.4 L66.0,217.0 L66.1,214.9 L66.3,217.5 L66.5,224.6 L66.7,235.5 L66.9,249.5 L67.1,265.5 L67.3,282.3 L67.5,298.7 L67.7,313.5 L67.9,325.8 L68.0,334.7 L68.2,339.6 L68.4,340.4 L68.6,337.7 L68.8,330.9 L69.0,320.6 L69.2,307.5 L69.4,292.5 L69.6,276.7 L69.8,261.1 L69.9,247.0 L70.1,235.2 L70.3,226.5 L70.5,221.7 L70.7,221.0 L70.9,225.6 L71.1,234.9 L71.3,248.0 L71.5,263.8 L71.7,280.9 L71.8,297.9 L72.0,313.2 L72.2,325.8 L72.4,334.4 L72.6,338.5 L72.8,337.8 L73.0,332.5 L73.2,323.1 L73.4,310.6 L73.6,296.0 L73.7,280.8 L73.9,266.2 L74.1,253.6 L74.3,244.1 L74.5,238.3 L74.7,236.9 L74.9,239.1 L75.1,245.3 L75.3,254.9 L75.5,267.1 L75.6,280.9 L75.8,295.2 L76.0,308.8 L76.2,320.5 L76.4,329.5 L76.6,334.9 L76.8,336.5 L77.0,333.8 L77.2,327.1 L77.4,317.1 L77.5,304.9 L77.7,291.3 L77.9,277.6 L78.1,264.7 L78.3,253.8 L78.5,245.8 L78.7,241.1 L78.9,240.0 L79.1,242.5 L79.3,248.2 L79.4,256.5 L79.6,266.8 L79.8,278.3 L80.0,290.0 L80.2,301.1 L80.4,310.7 L80.6,318.0 L80.8,322.6 L81.0,324.1 L81.2,322.6 L81.3,318.2 L81.5,311.1 L81.7,301.9 L81.9,291.3 L82.1,280.0 L82.3,269.0 L82.5,259.0 L82.7,250.9 L82.9,245.2 L83.1,242.2 L83.2,242.4 L83.4,245.8 L83.6,251.9 L83.8,260.1 L84.0,269.9 L84.2,280.5 L84.4,291.0 L84.6,300.6 L84.8,308.7 L85.0,314.6 L85.1,317.8 L85.3,318.3 L85.5,316.0 L85.7,311.1 L85.9,304.3 L86.1,295.8 L86.3,286.4 L86.5,276.9 L86.7,267.8 L86.9,260.1 L87.0,254.2 L87.2,250.6 L87.4,249.6 L87.6,251.0 L87.8,254.9 L88.0,260.9 L88.2,268.6 L88.4,277.5 L88.6,286.8 L88.8,295.9 L88.9,304.1 L89.1,310.8 L89.3,315.6 L89.5,318.1 L89.7,318.1 L89.9,315.7 L90.1,310.8 L90.3,304.1 L90.5,296.1 L90.7,287.3 L90.8,278.5 L91.0,270.2 L91.2,263.2 L91.4,257.8 L91.6,254.5 L91.8,253.5 L92.0,254.7 L92.2,258.1 L92.4,263.4 L92.6,270.1 L92.7,277.8 L92.9,286.0 L93.1,294.0 L93.3,301.2 L93.5,307.2 L93.7,311.6 L93.9,314.1 L94.1,314.4 L94.3,312.7 L94.5,309.0 L94.6,303.6 L94.8,297.0 L95.0,289.6 L95.2,281.9 L95.4,274.5 L95.6,268.0 L95.8,262.7 L96.0,259.0 L96.2,257.2 L96.4,257.3 L96.5,259.5 L96.7,263.6 L96.9,269.2 L97.1,275.9 L97.3,283.2 L97.5,290.5 L97.7,297.3 L97.9,303.0 L98.1,307.2 L98.3,309.7 L98.4,310.3 L98.6,308.9 L98.8,305.7 L99.0,300.9 L99.2,295.0 L99.4,288.3 L99.6,281.4 L99.8,274.9 L100.0,269.1 L100.2,264.6 L100.3,261.6 L100.5,260.4 L100.7,261.1 L100.9,264.0 L101.1,268.6 L101.3,274.7 L101.5,281.6 L101.7,288.6 L101.9,295.1 L102.1,300.5 L102.2,304.3 L102.4,306.2 L102.6,306.0 L102.8,303.8 L103.0,299.9 L103.2,294.5 L103.4,288.2 L103.6,281.6 L103.8,275.3 L104.0,269.9 L104.1,265.9 L104.3,263.6 L104.5,263.2 L104.7,264.4 L104.9,267.2 L105.1,271.2 L105.3,276.1 L105.5,281.6 L105.7,287.3 L105.9,292.6 L106.0,297.3 L106.2,300.9 L106.4,303.2 L106.6,304.1 L106.8,303.4 L107.0,301.3 L107.2,297.8 L107.4,293.4 L107.6,288.2 L107.8,282.8 L107.9,277.6 L108.1,272.9 L108.3,269.0 L108.5,266.3 L108.7,265.0 L108.9,265.1 L109.1,266.5 L109.3,269.3 L109.5,273.0 L109.7,277.4 L109.8,282.3 L110.0,287.1 L110.2,291.6 L110.4,295.4 L110.6,298.3 L110.8,300.1 L111.0,300.6 L111.2,299.8 L111.4,297.8 L111.6,294.9 L111.7,291.1 L111.9,286.8 L112.1,282.2 L112.3,277.8 L112.5,273.9 L112.7,270.7 L112.9,268.5 L113.1,267.4 L113.3,267.6 L113.5,269.2 L113.6,272.1 L113.8,276.0 L114.0,280.5 L114.2,285.3 L114.4,289.9 L114.6,293.8 L114.8,296.7 L115.0,298.4 L115.2,298.7 L115.4,297.6 L115.5,295.2 L115.7,291.7 L115.9,287.6 L116.1,283.1 L116.3,278.8 L116.5,275.0 L116.7,272.0 L116.9,270.2 L117.1,269.7 L117.3,270.3 L117.4,271.9 L117.6,274.3 L117.8,277.5 L118.0,281.0 L118.2,284.7 L118.4,288.3 L118.6,291.5 L118.8,294.1 L119.0,295.8 L119.2,296.7 L119.3,296.6 L119.5,295.6 L119.7,293.7 L119.9,291.1 L120.1,288.1 L120.3,284.7 L120.5,281.4 L120.7,278.2 L120.9,275.6 L121.1,273.6 L121.2,272.3 L121.4,272.0 L121.6,272.5 L121.8,273.9 L122.0,276.2 L122.2,279.0 L122.4,282.2 L122.6,285.6 L122.8,288.7 L123.0,291.5 L123.1,293.6 L123.3,294.9 L123.5,295.3 L123.7,294.8 L123.9,293.4 L124.1,291.2 L124.3,288.5 L124.5,285.4 L124.7,282.2 L124.9,279.2 L125.0,276.5 L125.2,274.5 L125.4,273.2 L125.6,272.8 L125.8,273.2 L126.0,274.5 L126.2,276.4 L126.4,278.9 L126.6,281.7 L126.8,284.7 L126.9,287.6 L127.1,290.2 L127.3,292.3 L127.5,293.8 L127.7,294.5 L127.9,294.5 L128.1,293.7 L128.3,292.2 L128.5,290.1 L128.7,287.5 L128.8,284.8 L129.0,282.0 L129.2,279.4 L129.4,277.1 L129.6,275.5 L129.8,274.4 L130.0,274.1 L130.2,274.6 L130.4,275.8 L130.6,277.8 L130.7,280.2 L130.9,283.0 L131.1,285.8 L131.3,288.4 L131.5,290.6 L131.7,292.2 L131.9,293.2 L132.1,293.3 L132.3,292.6 L132.5,291.3 L132.6,289.3 L132.8,286.9 L133.0,284.3 L133.2,281.6 L133.4,279.2 L133.6,277.2 L133.8,275.8 L134.0,275.1 L134.2,275.2 L134.4,275.9 L134.5,277.2 L134.7,279.1 L134.9,281.2 L135.1,283.6 L135.3,285.9 L135.5,288.1 L135.7,289.9 L135.9,291.2 L136.1,291.9 L136.3,292.0 L136.4,291.5 L136.6,290.4 L136.8,288.8 L137.0,286.8 L137.2,284.7 L137.4,282.5 L137.6,280.4 L137.8,278.6 L138.0,277.3 L138.2,276.5 L138.3,276.2 L138.5,276.6 L138.7,277.5 L138.9,279.0 L139.1,280.8 L139.3,282.8 L139.5,284.9 L139.7,286.8 L139.9,288.5 L140.1,289.8 L140.2,290.6 L140.4,290.9 L140.6,290.5 L140.8,289.7 L141.0,288.4 L141.2,286.7 L141.4,284.8 L141.6,282.9 L141.8,281.1 L142.0,279.5 L142.1,278.3 L142.3,277.6 L142.5,277.4 L142.7,277.7 L142.9,278.5 L143.1,279.8 L143.3,281.3 L143.5,283.1 L143.7,284.9 L143.9,286.6 L144.0,288.1 L144.2,289.2 L144.4,289.9 L144.6,290.1 L144.8,289.8 L145.0,289.1 L145.2,288.0 L145.4,286.5 L145.6,284.9 L145.8,283.3 L145.9,281.7 L146.1,280.4 L146.3,279.3 L146.5,278.7 L146.7,278.5 L146.9,278.8 L147.1,279.5 L147.3,280.5 L147.5,281.9 L147.7,283.4 L147.8,285.0 L148.0,286.4 L148.2,287.7 L148.4,288.7 L148.6,289.3 L148.8,289.5 L149.0,289.3 L149.2,288.7 L149.4,287.7 L149.6,286.4 L149.7,285.0 L149.9,283.6 L150.1,282.2 L150.3,281.0 L150.5,280.1 L150.7,279.5 L150.9,279.3 L151.1,279.5 L151.3,280.1 L151.5,281.0 L151.6,282.1 L151.8,283.4 L152.0,284.8 L152.2,286.1 L152.4,287.2 L152.6,288.0 L152.8,288.6 L153.0,288.8 L153.2,288.6 L153.4,288.1 L153.5,287.3 L153.7,286.2 L153.9,285.0 L154.1,283.8 L154.3,282.6 L154.5,281.5 L154.7,280.7 L154.9,280.2 L155.1,280.1 L155.3,280.2 L155.4,280.7 L155.6,281.4 L155.8,282.4 L156.0,283.5 L156.2,284.6 L156.4,285.7 L156.6,286.7 L156.8,287.5 L157.0,288.0 L157.2,288.1 L157.3,288.0 L157.5,287.6 L157.7,286.9 L157.9,286.0 L158.1,285.0 L158.3,283.9 L158.5,282.9 L158.7,282.0 L158.9,281.3 L159.1,280.8 L159.2,280.6 L159.4,280.7 L159.6,281.1 L159.8,281.8 L160.0,282.6 L160.2,283.5 L160.4,284.5 L160.6,285.5 L160.8,286.3 L161.0,287.0 L161.1,287.4 L161.3,287.6 L161.5,287.5 L161.7,287.2 L161.9,286.6 L162.1,285.8 L162.3,285.0 L162.5,284.1 L162.7,283.2 L162.9,282.4 L163.0,281.8 L163.2,281.4 L163.4,281.2 L163.6,281.3 L163.8,281.6 L164.0,282.1 L164.2,282.8 L164.4,283.6 L164.6,284.5 L164.8,285.3 L164.9,286.0 L165.1,286.6 L165.3,287.0 L165.5,287.1 L165.7,287.1 L165.9,286.8 L166.1,286.3 L166.3,285.7 L166.5,284.9 L166.7,284.2 L166.8,283.4 L167.0,282.8 L167.2,282.3 L167.4,281.9 L167.6,281.8 L167.8,281.8 L168.0,282.1 L168.2,282.5 L168.4,283.1 L168.6,283.7 L168.7,284.4 L168.9,285.1 L169.1,285.7 L169.3,286.1 L169.5,286.5 L169.7,286.6 L169.9,286.6 L170.1,286.4 L170.3,286.0 L170.5,285.5 L170.6,284.9 L170.8,284.3 L171.0,283.7 L171.2,283.1 L171.4,282.7 L171.6,282.4 L171.8,282.2 L172.0,282.2 L172.2,282.4 L172.4,282.8 L172.5,283.3 L172.7,283.8 L172.9,284.4 L173.1,285.0 L173.3,285.5 L173.5,285.9 L173.7,286.2 L173.9,286.4 L174.1,286.3 L174.3,286.2 L174.4,285.8 L174.6,285.4 L174.8,284.9 L175.0,284.4 L175.2,283.8 L175.4,283.4 L175.6,283.0 L175.8,282.7 L176.0,282.6 L176.2,282.6 L176.3,282.7 L176.5,283.0 L176.7,283.4 L176.9,283.9 L177.1,284.4 L177.3,284.9 L177.5,285.3 L177.7,285.7 L177.9,286.0 L178.1,286.1 L178.2,286.1 L178.4,286.0 L178.6,285.7 L178.8,285.3 L179.0,284.9 L179.2,284.4 L179.4,284.0 L179.6,283.6 L179.8,283.2 L180.0,283.0 L180.1,282.9 L180.3,282.9 L180.5,283.0 L180.7,283.3 L180.9,283.6 L181.1,284.0 L181.3,284.4 L181.5,284.8 L181.7,285.2 L181.9,285.5 L182.0,285.7 L182.2,285.8 L182.4,285.8 L182.6,285.7 L182.8,285.5 L183.0,285.2 L183.2,284.9 L183.4,284.5 L183.6,284.1 L183.8,283.8 L183.9,283.5 L184.1,283.3 L184.3,283.2 L184.5,283.2 L184.7,283.3 L184.9,283.5 L185.1,283.8 L185.3,284.1 L185.5,284.4 L185.7,284.8 L185.8,285.1 L186.0,285.3 L186.2,285.5 L186.4,285.6 L186.6,285.6 L186.8,285.5 L187.0,285.3 L187.2,285.1 L187.4,284.9 L187.6,284.6 L187.7,284.3 L187.9,284.0 L188.1,283.8 L188.3,283.7 L188.5,283.6 L188.7,283.6 L188.9,283.6 L189.1,283.8 L189.3,284.0 L189.5,284.2 L189.6,284.5 L189.8,284.7 L190.0,285.0 L190.2,285.2 L190.4,285.3 L190.6,285.4 L190.8,285.4 L191.0,285.4 L191.2,285.2 L191.4,285.1 L191.5,284.8 L191.7,284.6 L191.9,284.4 L192.1,284.2 L192.3,284.0 L192.5,283.9 L192.7,283.8 L192.9,283.8 L193.1,283.9 L193.3,284.0 L193.4,284.1 L193.6,284.3 L193.8,284.5 L194.0,284.7 L194.2,284.9 L194.4,285.1 L194.6,285.2 L194.8,285.3 L195.0,285.3 L195.2,285.2 L195.3,285.1 L195.5,285.0 L195.7,284.9 L195.9,284.7 L196.1,284.5 L196.3,284.3 L196.5,284.2 L196.7,284.1 L196.9,284.0 L197.1,284.0 L197.2,284.1 L197.4,284.2 L197.6,284.3 L197.8,284.4 L198.0,284.6 L198.2,284.7 L198.4,284.9 L198.6,285.0 L198.8,285.1 L199.0,285.2 L199.1,285.2 L199.3,285.1 L199.5,285.1 L199.7,285.0 L199.9,284.8 L200.1,284.7 L200.3,284.6 L200.5,284.5 L200.7,284.4 L200.9,284.3 L201.0,284.3 L201.2,284.3 L201.4,284.3 L201.6,284.4 L201.8,284.4 L202.0,284.5 L202.2,284.6 L202.4,284.8 L202.6,284.9 L202.8,284.9 L202.9,285.0 L203.1,285.0 L203.3,285.0 L203.5,285.0 L203.7,285.0 L203.9,284.9 L204.1,284.8 L204.3,284.8 L204.5,284.7 L204.7,284.6 L204.8,284.6 L205.0,284.5 L205.2,284.5 L205.4,284.5 L205.6,284.5 L205.8,284.6 L206.0,284.6 L206.2,284.7 L206.4,284.7 L206.6,284.8 L206.7,284.8 L206.9,284.9 L207.1,284.9 L207.3,284.9 L207.5,284.5 L207.7,284.5 L207.9,284.5 L208.1,284.5 L208.3,284.5 L208.5,284.5 L208.6,284.5 L208.8,284.5 L209.0,284.5 L209.2,284.5 L209.4,284.5 L209.6,284.5 L209.8,284.5 L210.0,284.5 L210.2,284.5 L210.4,284.5 L210.5,284.5 L210.7,284.5 L210.9,284.5 L211.1,284.5 L211.3,284.5 L211.5,284.5 L211.7,284.5 L211.9,284.5 L212.1,284.5 L212.3,284.5 L212.4,284.5 L212.6,284.5 L212.8,284.5 L213.0,284.5 L213.2,284.5 L213.4,284.5 L213.6,284.5 L213.8,284.5 L214.0,284.5 L214.2,284.5 L214.3,284.5 L214.5,284.5 L214.7,284.5 L214.9,284.5 L215.1,284.5 L215.3,284.5 L215.5,284.5 L215.7,284.5 L215.9,284.5 L216.1,284.5 L216.2,284.5 L216.4,284.5 L216.6,284.5 L216.8,284.5 L217.0,284.5 L217.2,284.5 L217.4,284.5 L217.6,284.5 L217.8,284.5 L218.0,284.5 L218.1,284.5 L218.3,284.5 L218.5,284.5 L218.7,284.5 L218.9,284.5 L219.1,284.5 L219.3,284.5 L219.5,284.5 L219.7,284.5 L219.9,284.5 L220.0,284.5 L220.2,284.5 L220.4,284.5 L220.6,284.5 L220.8,284.5 L221.0,284.5 L221.2,284.5 L221.4,284.5 L221.6,284.5 L221.8,284.5 L221.9,284.5 L222.1,284.5 L222.3,284.5 L222.5,284.5 L222.7,284.5 L222.9,284.5 L223.1,284.5 L223.3,284.5 L223.5,284.5 L223.7,284.5 L223.8,284.5 L224.0,284.5 L224.2,284.5 L224.4,284.5 L224.6,284.5 L224.8,284.5 L225.0,284.5 L225.2,284.5 L225.4,284.5 L225.6,284.5 L225.7,284.5 L225.9,284.5 L226.1,284.5 L226.3,284.5 L226.5,284.5 L226.7,284.5 L226.9,284.5 L227.1,284.5 L227.3,284.5 L227.5,284.5 L227.6,284.5 L227.8,284.5 L228.0,284.5 L228.2,284.5 L228.4,284.5 L228.6,284.5 L228.8,284.5 L229.0,284.5 L229.2,284.5 L229.4,284.5 L229.5,284.5 L229.7,284.5 L229.9,284.5 L230.1,284.5 L230.3,284.5 L230.5,284.5 L230.7,284.5 L230.9,284.5 L231.1,284.5 L231.3,284.5 L231.4,284.5 L231.6,284.5 L231.8,284.5 L232.0,284.5 L232.2,284.5 L232.4,284.5 L232.6,284.5 L232.8,284.5 L233.0,284.5 L233.2,284.5 L233.3,284.5 L233.5,284.5 L233.7,284.5 L233.9,284.5 L234.1,284.5 L234.3,284.5 L234.5,284.5 L234.7,284.5 L234.9,284.5 L235.1,284.5 L235.2,284.5 L235.4,284.5 L235.6,284.5 L235.8,284.5 L236.0,284.5 L236.2,284.5 L236.4,284.5 L236.6,284.5 L236.8,284.5 L237.0,284.5 L237.1,284.5 L237.3,284.5 L237.5,284.5 L237.7,284.5 L237.9,284.5 L238.1,284.5 L238.3,284.5 L238.5,284.5 L238.7,284.5 L238.9,284.5 L239.0,284.5 L239.2,284.5 L239.4,284.5 L239.6,284.5 L239.8,284.5 L240.0,284.5 L240.2,284.5 L240.4,284.5 L240.6,284.5 L240.8,284.5 L240.9,284.5 L241.1,284.5 L241.3,284.5 L241.5,284.5 L241.7,284.5 L241.9,284.5 L242.1,284.5 L242.3,284.5 L242.5,284.5 L242.7,284.5 L242.8,284.5 L243.0,284.5 L243.2,284.5 L243.4,284.5 L243.6,284.5 L243.8,284.5 L244.0,284.5 L244.2,284.5 L244.4,284.5 L244.6,284.5 L244.7,284.5 L244.9,284.5 L245.1,284.5 L245.3,284.5 L245.5,284.5 L245.7,284.5 L245.9,284.5 L246.1,284.5 L246.3,284.5 L246.5,284.5 L246.6,284.5 L246.8,284.5 L247.0,284.5 L247.2,284.5 L247.4,284.5 L247.6,284.5 L247.8,284.5 L248.0,284.5 L248.2,284.5 L248.4,284.5 L248.5,284.5 L248.7,284.5 L248.9,284.5 L249.1,284.5 L249.3,284.5 L249.5,284.5 L249.7,284.5 L249.9,284.5 L250.1,284.5 L250.3,284.5 L250.4,284.5 L250.6,284.5 L250.8,284.5 L251.0,284.5 L251.2,284.5 L251.4,284.5 L251.6,284.5 L251.8,284.5 L252.0,284.5 L252.2,284.5 L252.3,284.5 L252.5,284.5 L252.7,284.5 L252.9,284.5 L253.1,284.5 L253.3,284.5 L253.5,284.5 L253.7,284.5 L253.9,284.5 L254.1,284.5 L254.2,284.5 L254.4,284.5 L254.6,284.5 L254.8,284.5 L255.0,284.5 L255.2,284.5 L255.4,284.5 L255.6,284.5 L255.8,284.5 L256.0,284.5 L256.1,284.5 L256.3,284.5 L256.5,284.5 L256.7,284.5 L256.9,284.5 L257.1,284.5 L257.3,284.5 L257.5,284.5 L257.7,284.5 L257.9,284.5 L258.0,284.5 L258.2,284.5 L258.4,284.5 L258.6,284.5 L258.8,284.5 L259.0,284.5 L259.2,284.5 L259.4,284.5 L259.6,284.5 L259.8,284.5 L259.9,284.5 L260.1,284.5 L260.3,284.5 L260.5,284.5 L260.7,284.5 L260.9,284.5 L261.1,284.5 L261.3,284.5 L261.5,284.5 L261.7,284.5 L261.8,284.5 L262.0,284.5 L262.2,284.5 L262.4,284.5 L262.6,284.5 L262.8,284.5 L263.0,284.5 L263.2,284.5 L263.4,284.5 L263.6,284.5 L263.7,284.5 L263.9,284.5 L264.1,284.5 L264.3,284.5 L264.5,284.5 L264.7,284.5 L264.9,284.5 L265.1,284.5 L265.3,284.5 L265.5,284.5 L265.6,284.5 L265.8,284.5 L266.0,284.5 L266.2,284.5 L266.4,284.5 L266.6,284.5 L266.8,284.5 L267.0,284.5 L267.2,284.5 L267.4,284.5 L267.5,284.5 L267.7,284.5 L267.9,284.5 L268.1,284.5 L268.3,284.5 L268.5,284.5 L268.7,284.5 L268.9,284.5 L269.1,284.5 L269.3,284.5 L269.4,284.5 L269.6,284.5 L269.8,284.5 L270.0,284.5 L270.2,284.5 L270.4,284.5 L270.6,284.5 L270.8,284.5 L271.0,284.5 L271.2,284.5 L271.3,284.5 L271.5,284.5 L271.7,284.5 L271.9,284.5 L272.1,284.5 L272.3,284.5 L272.5,284.5 L272.7,284.5 L272.9,284.5 L273.1,284.5 L273.2,284.5 L273.4,284.5 L273.6,284.5 L273.8,284.5 L274.0,284.5 L274.2,284.5 L274.4,284.5 L274.6,284.5 L274.8,284.5 L275.0,284.5 L275.1,284.5 L275.3,284.5 L275.5,284.5 L275.7,284.5 L275.9,284.5 L276.1,284.5 L276.3,284.5 L276.5,284.5 L276.7,284.5 L276.9,284.5 L277.0,284.5 L277.2,284.5 L277.4,284.5 L277.6,284.5 L277.8,284.5 L278.0,284.5 L278.2,284.5 L278.4,284.5 L278.6,284.5 L278.8,284.5 L278.9,284.5 L279.1,284.5 L279.3,284.5 L279.5,284.5 L279.7,284.5 L279.9,284.5 L280.1,284.5 L280.3,284.5 L280.5,284.5 L280.7,284.5 L280.8,284.5 L281.0,284.5 L281.2,284.5 L281.4,284.5 L281.6,284.5 L281.8,284.5 L282.0,284.5 L282.2,284.5 L282.4,284.5 L282.6,284.5 L282.7,284.5 L282.9,284.5 L283.1,284.5 L283.3,284.5 L283.5,284.5 L283.7,284.5 L283.9,284.5 L284.1,284.5 L284.3,284.5 L284.5,284.5 L284.6,284.5 L284.8,284.5 L285.0,284.5 L285.2,284.5 L285.4,284.5 L285.6,284.5 L285.8,284.5 L286.0,284.5 L286.2,284.5 L286.4,284.5 L286.5,284.5 L286.7,284.5 L286.9,284.5 L287.1,284.5 L287.3,284.5 L287.5,284.5 L287.7,284.5 L287.9,284.5 L288.1,284.5 L288.3,284.5 L288.4,284.5 L288.6,284.5 L288.8,284.5 L289.0,284.5 L289.2,284.5 L289.4,284.5 L289.6,284.5 L289.8,284.5 L290.0,284.5 L290.2,284.5 L290.3,284.5 L290.5,284.5 L290.7,284.5 L290.9,284.5 L291.1,284.5 L291.3,284.5 L291.5,284.5 L291.7,284.5 L291.9,284.5 L292.1,284.5 L292.2,284.5 L292.4,284.5 L292.6,284.5 L292.8,284.5 L293.0,284.5 L293.2,284.5 L293.4,284.5 L293.6,284.5 L293.8,284.5 L294.0,284.5 L294.1,284.5 L294.3,284.5 L294.5,284.5 L294.7,284.5 L294.9,284.5 L295.1,284.5 L295.3,284.5 L295.5,284.5 L295.7,284.5 L295.9,284.5 L296.0,284.5 L296.2,284.5 L296.4,284.5 L296.6,284.5 L296.8,284.5 L297.0,284.5 L297.2,284.5 L297.4,284.5 L297.6,284.5 L297.8,284.5 L297.9,284.5 L298.1,284.5 L298.3,284.5 L298.5,284.5 L298.7,284.5 L298.9,284.5 L299.1,284.5 L299.3,284.5 L299.5,284.5 L299.7,284.5 L299.8,284.5 L300.0,284.5 L300.2,284.5 L300.4,284.5 L300.6,284.5 L300.8,284.5 L301.0,284.5 L301.2,284.5 L301.4,284.5 L301.6,284.5 L301.7,284.5 L301.9,284.5 L302.1,284.5 L302.3,284.5 L302.5,284.5 L302.7,284.5 L302.9,284.5 L303.1,284.5 L303.3,284.5 L303.5,284.5 L303.6,284.5 L303.8,284.5 L304.0,284.5 L304.2,284.5 L304.4,284.5 L304.6,284.5 L304.8,284.5 L305.0,284.5 L305.2,284.5 L305.4,284.5 L305.5,284.5 L305.7,284.5 L305.9,284.5 L306.1,284.5 L306.3,284.5 L306.5,284.5 L306.7,284.5 L306.9,284.5 L307.1,284.5 L307.3,284.5 L307.4,284.5 L307.6,284.5 L307.8,284.5 L308.0,284.5 L308.2,284.5 L308.4,284.5 L308.6,284.5 L308.8,284.5 L309.0,284.5 L309.2,284.5 L309.3,284.5 L309.5,284.5 L309.7,284.5 L309.9,284.5 L310.1,284.5 L310.3,284.5 L310.5,284.5 L310.7,284.5 L310.9,284.5 L311.1,284.5 L311.2,284.5 L311.4,284.5 L311.6,284.5 L311.8,284.5 L312.0,284.5 L312.2,284.5 L312.4,284.5 L312.6,284.5 L312.8,284.5 L313.0,284.5 L313.1,284.5 L313.3,284.5 L313.5,284.5 L313.7,284.5 L313.9,284.5 L314.1,284.5 L314.3,284.5 L314.5,284.5 L314.7,284.5 L314.9,284.5 L315.0,284.5 L315.2,284.5 L315.4,284.5 L315.6,284.5 L315.8,284.5 L316.0,284.5 L316.2,284.5 L316.4,284.5 L316.6,284.5 L316.8,284.5 L316.9,284.5 L317.1,284.5 L317.3,284.5 L317.5,284.5 L317.7,284.5 L317.9,284.5 L318.1,284.5 L318.3,284.5 L318.5,284.5 L318.7,284.5 L318.8,284.5 L319.0,284.5 L319.2,284.5 L319.4,284.5 L319.6,284.5 L319.8,284.5 L320.0,284.5 L320.2,284.5 L320.4,284.5 L320.6,284.5 L320.7,284.5 L320.9,284.5 L321.1,284.5 L321.3,284.5 L321.5,284.5 L321.7,284.5 L321.9,284.5 L322.1,284.5 L322.3,284.5 L322.5,284.5 L322.6,284.5 L322.8,284.5 L323.0,284.5 L323.2,284.5 L323.4,284.5 L323.6,284.5 L323.8,284.5 L324.0,284.5 L324.2,284.5 L324.4,284.5 L324.5,284.5 L324.7,284.5 L324.9,284.5 L325.1,284.5 L325.3,284.5 L325.5,284.5 L325.7,284.5 L325.9,284.5 L326.1,284.5 L326.3,284.5 L326.4,284.5 L326.6,284.5 L326.8,284.5 L327.0,284.5 L327.2,284.5 L327.4,284.5 L327.6,284.5 L327.8,284.5 L328.0,284.5 L328.2,284.5 L328.3,284.5 L328.5,284.5 L328.7,284.5 L328.9,284.5 L329.1,284.5 L329.3,284.5 L329.5,284.5 L329.7,284.5 L329.9,284.5 L330.1,284.5 L330.2,284.5 L330.4,284.5 L330.6,284.5 L330.8,284.5 L331.0,284.5 L331.2,284.5 L331.4,284.5 L331.6,284.5 L331.8,284.5 L332.0,284.5 L332.1,284.5 L332.3,284.5 L332.5,284.5 L332.7,284.5 L332.9,284.5 L333.1,284.5 L333.3,284.5 L333.5,284.5 L333.7,284.5 L333.9,284.5 L334.0,284.5 L334.2,284.5 L334.4,284.5 L334.6,284.5 L334.8,284.5 L335.0,284.5 L335.2,284.5 L335.4,284.5 L335.6,284.5 L335.8,284.5 L335.9,284.5 L336.1,284.5 L336.3,284.5 L336.5,284.5 L336.7,284.5 L336.9,284.5 L337.1,284.5 L337.3,284.5 L337.5,284.5 L337.7,284.5 L337.8,284.5 L338.0,284.5 L338.2,284.5 L338.4,284.5 L338.6,284.5 L338.8,284.5 L339.0,284.5 L339.2,284.5 L339.4,284.5 L339.6,284.5 L339.7,284.5 L339.9,284.5 L340.1,284.5 L340.3,284.5 L340.5,284.5 L340.7,284.5 L340.9,284.5 L341.1,284.5 L341.3,284.5 L341.5,284.5 L341.6,284.5 L341.8,284.5 L342.0,284.5 L342.2,284.5 L342.4,284.5 L342.6,284.5 L342.8,284.5 L343.0,284.5 L343.2,284.5 L343.4,284.5 L343.5,284.5 L343.7,284.5 L343.9,284.5 L344.1,284.5 L344.3,284.5 L344.5,284.5 L344.7,284.5 L344.9,284.5 L345.1,284.5 L345.3,284.5 L345.4,284.5 L345.6,284.5 L345.8,284.5 L346.0,284.5 L346.2,284.5 L346.4,284.5 L346.6,284.5 L346.8,284.5 L347.0,284.5 L347.2,284.5 L347.3,284.5 L347.5,284.5 L347.7,284.5 L347.9,284.5 L348.1,284.5 L348.3,284.5 L348.5,284.5 L348.7,284.5 L348.9,284.5 L349.1,284.5 L349.2,284.5 L349.4,284.5 L349.6,284.5 L349.8,284.5 L350.0,284.5 L350.2,284.5 L350.4,284.5 L350.6,284.5 L350.8,284.5 L351.0,284.5 L351.1,284.5 L351.3,284.5 L351.5,284.5 L351.7,284.5 L351.9,284.5 L352.1,284.5 L352.3,284.5 L352.5,284.5 L352.7,284.5 L352.9,284.5 L353.0,284.5 L353.2,284.5 L353.4,284.5 L353.6,284.5 L353.8,284.5 L354.0,284.5 L354.2,284.5 L354.4,284.5 L354.6,284.5 L354.8,284.5 L354.9,284.5 L355.1,284.5 L355.3,284.5 L355.5,284.5 L355.7,284.5 L355.9,284.5 L356.1,284.5 L356.3,284.5 L356.5,284.5 L356.7,284.5 L356.8,284.5 L357.0,284.5 L357.2,284.5 L357.4,284.5 L357.6,284.5 L357.8,284.5 L358.0,284.5 L358.2,284.5 L358.4,284.5 L358.6,284.5 L358.7,284.5 L358.9,284.5 L359.1,284.5 L359.3,284.5 L359.5,284.5 L359.7,284.5 L359.9,284.5 L360.1,284.5 L360.3,284.5 L360.5,284.5 L360.6,284.5 L360.8,284.5 L361.0,284.5 L361.2,284.5 L361.4,284.5 L361.6,284.5 L361.8,284.5 L362.0,284.5 L362.2,284.5 L362.4,284.5 L362.5,284.5 L362.7,284.5 L362.9,284.5 L363.1,284.5 L363.3,284.5 L363.5,284.5 L363.7,284.5 L363.9,284.5 L364.1,284.5 L364.3,284.5 L364.4,284.5 L364.6,284.5 L364.8,284.5 L365.0,284.5 L365.2,284.5 L365.4,284.5 L365.6,284.5 L365.8,284.5 L366.0,284.5 L366.2,284.5 L366.3,284.5 L366.5,284.5 L366.7,284.5 L366.9,284.5 L367.1,284.5 L367.3,284.5 L367.5,284.5 L367.7,284.5 L367.9,284.5 L368.1,284.5 L368.2,284.5 L368.4,284.5 L368.6,284.5 L368.8,284.5 L369.0,284.5 L369.2,284.5 L369.4,284.5 L369.6,284.5 L369.8,284.5 L370.0,284.5 L370.1,284.5 L370.3,284.5 L370.5,284.5 L370.7,284.5 L370.9,284.5 L371.1,284.5 L371.3,284.5 L371.5,284.5 L371.7,284.5 L371.9,284.5 L372.0,284.5 L372.2,284.5 L372.4,284.5 L372.6,284.5 L372.8,284.5 L373.0,284.5 L373.2,284.5 L373.4,284.5 L373.6,284.5 L373.8,284.5 L373.9,284.5 L374.1,284.5 L374.3,284.5 L374.5,284.5 L374.7,284.5 L374.9,284.5 L375.1,284.5 L375.3,284.5 L375.5,284.5 L375.7,284.5 L375.8,284.5 L376.0,284.5 L376.2,284.5 L376.4,284.5 L376.6,284.5 L376.8,284.5 L377.0,284.5 L377.2,284.5 L377.4,284.5 L377.6,284.5 L377.7,284.5 L377.9,284.5 L378.1,284.5 L378.3,284.5 L378.5,284.5 L378.7,284.5 L378.9,284.5 L379.1,284.5 L379.3,284.5 L379.5,284.5 L379.6,284.5 L379.8,284.5 L380.0,284.5 L380.2,284.5 L380.4,284.5 L380.6,284.5 L380.8,284.5 L381.0,284.5 L381.2,284.5 L381.4,284.5 L381.5,284.5 L381.7,284.5 L381.9,284.5 L382.1,284.5 L382.3,284.5 L382.5,284.5 L382.7,284.5 L382.9,284.5 L383.1,284.5 L383.3,284.5 L383.4,284.5 L383.6,284.5 L383.8,284.5 L384.0,284.5 L384.2,284.5 L384.4,284.5 L384.6,284.5 L384.8,284.5 L385.0,284.5 L385.2,284.5 L385.3,284.5 L385.5,284.5 L385.7,284.5 L385.9,284.5 L386.1,284.5 L386.3,284.5 L386.5,284.5 L386.7,284.5 L386.9,284.5 L387.1,284.5 L387.2,284.5 L387.4,284.5 L387.6,284.5 L387.8,284.5 L388.0,284.5 L388.2,284.5 L388.4,284.5 L388.6,284.5 L388.8,284.5 L389.0,284.5 L389.1,284.5 L389.3,284.5 L389.5,284.5 L389.7,284.5 L389.9,284.5 L390.1,284.5 L390.3,284.5 L390.5,284.5 L390.7,284.5 L390.9,284.5 L391.0,284.5 L391.2,284.5 L391.4,284.5 L391.6,284.5 L391.8,284.5 L392.0,284.5 L392.2,284.5 L392.4,284.5 L392.6,284.5 L392.8,284.5 L392.9,284.5 L393.1,284.5 L393.3,284.5 L393.5,284.5 L393.7,284.5 L393.9,284.5 L394.1,284.5 L394.3,284.5 L394.5,284.5 L394.7,284.5 L394.8,284.5 L395.0,284.5 L395.2,284.5 L395.4,284.5 L395.6,284.5 L395.8,284.5 L396.0,284.5 L396.2,284.5 L396.4,284.5 L396.6,284.5 L396.7,284.5 L396.9,284.5 L397.1,284.5 L397.3,284.5 L397.5,284.5 L397.7,284.5 L397.9,284.5 L398.1,284.5 L398.3,284.5 L398.5,284.5 L398.6,284.5 L398.8,284.5 L399.0,284.5 L399.2,284.5 L399.4,284.5 L399.6,284.5 L399.8,284.5 L400.0,284.5 L400.2,284.5 L400.4,284.5 L400.5,284.5 L400.7,284.5 L400.9,284.5 L401.1,284.5 L401.3,284.5 L401.5,284.5 L401.7,284.5 L401.9,284.5 L402.1,284.5 L402.3,284.5 L402.4,284.5 L402.6,284.5 L402.8,284.5 L403.0,284.5 L403.2,284.5 L403.4,284.5 L403.6,284.5 L403.8,284.5 L404.0,284.5 L404.2,284.5 L404.3,284.5 L404.5,284.5 L404.7,284.5 L404.9,284.5 L405.1,284.5 L405.3,284.5 L405.5,284.5 L405.7,284.5 L405.9,284.5 L406.1,284.5 L406.2,284.5 L406.4,284.5 L406.6,284.5 L406.8,284.5 L407.0,284.5 L407.2,284.5 L407.4,284.5 L407.6,284.5 L407.8,284.5 L408.0,284.5 L408.1,284.5 L408.3,284.5 L408.5,284.5 L408.7,284.5 L408.9,284.5 L409.1,284.5 L409.3,284.5 L409.5,284.5 L409.7,284.5 L409.9,284.5 L410.0,284.5 L410.2,284.5 L410.4,284.5 L410.6,284.5 L410.8,284.5 L411.0,284.5 L411.2,284.5 L411.4,284.5 L411.6,284.5 L411.8,284.5 L411.9,284.5 L412.1,284.5 L412.3,284.5 L412.5,284.5 L412.7,284.5 L412.9,284.5 L413.1,284.5 L413.3,284.5 L413.5,284.5 L413.7,284.5 L413.8,284.5 L414.0,284.5 L414.2,284.5 L414.4,284.5 L414.6,284.5 L414.8,284.5 L415.0,284.5 L415.2,284.5 L415.4,284.5 L415.6,284.5 L415.7,284.5 L415.9,284.5 L416.1,284.5 L416.3,284.5 L416.5,284.5 L416.7,284.5 L416.9,284.5 L417.1,284.5 L417.3,284.5 L417.5,284.5 L417.6,284.5 L417.8,284.5 L418.0,284.5 L418.2,284.5 L418.4,284.5 L418.6,284.5 L418.8,284.5 L419.0,284.5 L419.2,284.5 L419.4,284.5 L419.5,284.5 L419.7,284.5 L419.9,284.5 L420.1,284.5 L420.3,284.5 L420.5,284.5 L420.7,284.5 L420.9,284.5 L421.1,284.5 L421.3,284.5 L421.4,284.5 L421.6,284.5 L421.8,284.5 L422.0,284.5 L422.2,284.5 L422.4,284.5 L422.6,284.5 L422.8,284.5 L423.0,284.5 L423.2,284.5 L423.3,284.5 L423.5,284.5 L423.7,284.5 L423.9,284.5 L424.1,284.5 L424.3,284.5 L424.5,284.5 L424.7,284.5 L424.9,284.5 L425.1,284.5 L425.2,284.5 L425.4,284.5 L425.6,284.5 L425.8,284.5 L426.0,284.5 L426.2,284.5 L426.4,284.5 L426.6,284.5 L426.8,284.5 L427.0,284.5 L427.1,284.5 L427.3,284.5 L427.5,284.5 L427.7,284.5 L427.9,284.5 L428.1,284.5 L428.3,284.5 L428.5,284.5 L428.7,284.5 L428.9,284.5 L429.0,284.5 L429.2,284.5 L429.4,284.5 L429.6,284.5 L429.8,284.5 L430.0,284.5 L430.2,284.5 L430.4,284.5 L430.6,284.5 L430.8,284.5 L430.9,284.5 L431.1,284.5 L431.3,284.5 L431.5,284.5 L431.7,284.5 L431.9,284.5 L432.1,284.5 L432.3,284.5 L432.5,284.5 L432.7,284.5 L432.8,284.5 L433.0,284.5 L433.2,284.5 L433.4,284.5 L433.6,284.5 L433.8,284.5 L434.0,284.5 L434.2,284.5 L434.4,284.5 L434.6,284.5 L434.7,284.5 L434.9,284.5 L435.1,284.5 L435.3,284.5 L435.5,284.5 L435.7,284.5 L435.9,284.5 L436.1,284.5 L436.3,284.5 L436.5,284.5 L436.6,284.5 L436.8,284.5 L437.0,284.5 L437.2,284.5 L437.4,284.5 L437.6,284.5 L437.8,284.5 L438.0,284.5 L438.2,284.5 L438.4,284.5 L438.5,284.5 L438.7,284.5 L438.9,284.5 L439.1,284.5 L439.3,284.5 L439.5,284.5 L439.7,284.5 L439.9,284.5 L440.1,284.5 L440.3,284.5 L440.4,284.5 L440.6,284.5 L440.8,284.5 L441.0,284.5 L441.2,284.5 L441.4,284.5 L441.6,284.5 L441.8,284.5 L442.0,284.5 L442.2,284.5 L442.3,284.5 L442.5,284.5 L442.7,284.5 L442.9,284.5 L443.1,284.5 L443.3,284.5 L443.5,284.5 L443.7,284.5 L443.9,284.5 L444.1,284.5 L444.2,284.5 L444.4,284.5 L444.6,284.5 L444.8,284.5 L445.0,284.5 L445.2,284.5 L445.4,284.5 L445.6,284.5 L445.8,284.5 L446.0,284.5 L446.1,284.5 L446.3,284.5 L446.5,284.5 L446.7,284.5 L446.9,284.5 L447.1,284.5 L447.3,284.5 L447.5,284.5 L447.7,284.5 L447.9,284.5 L448.0,284.5 L448.2,284.5 L448.4,284.5 L448.6,284.5 L448.8,284.5 L449.0,284.5 L449.2,284.5 L449.4,284.5 L449.6,284.5 L449.8,284.5 L449.9,284.5 L450.1,284.5 L450.3,284.5 L450.5,284.5 L450.7,284.5 L450.9,284.5 L451.1,284.5 L451.3,284.5 L451.5,284.5 L451.7,284.5 L451.8,284.5 L452.0,284.5 L452.2,284.5 L452.4,284.5 L452.6,284.5 L452.8,284.5 L453.0,284.5 L453.2,284.5 L453.4,284.5 L453.6,284.5 L453.7,284.5 L453.9,284.5 L454.1,284.5 L454.3,284.5 L454.5,284.5 L454.7,284.5 L454.9,284.5 L455.1,284.5 L455.3,284.5 L455.5,284.5 L455.6,284.5 L455.8,284.5 L456.0,284.5 L456.2,284.5 L456.4,284.5 L456.6,284.5 L456.8,284.5 L457.0,284.5 L457.2,284.5 L457.4,284.5 L457.5,284.5 L457.7,284.5 L457.9,284.5 L458.1,284.5 L458.3,284.5 L458.5,284.5 L458.7,284.5 L458.9,284.5 L459.1,284.5 L459.3,284.5 L459.4,284.5 L459.6,284.5 L459.8,284.5 L460.0,284.5 L460.2,284.5 L460.4,284.5 L460.6,284.5 L460.8,284.5 L461.0,284.5 L461.2,284.5 L461.3,284.5 L461.5,284.5 L461.7,284.5 L461.9,284.5 L462.1,284.5 L462.3,284.5 L462.5,284.5 L462.7,284.5 L462.9,284.5 L463.1,284.5 L463.2,284.5 L463.4,284.5 L463.6,284.5 L463.8,284.5 L464.0,284.5 L464.2,284.5 L464.4,284.5 L464.6,284.5 L464.8,284.5 L465.0,284.5 L465.1,284.5 L465.3,284.5 L465.5,284.5 L465.7,284.5 L465.9,284.5 L466.1,284.5 L466.3,284.5 L466.5,284.5 L466.7,284.5 L466.9,284.5 L467.0,284.5 L467.2,284.5 L467.4,284.5 L467.6,284.5 L467.8,284.5 L468.0,284.5 L468.2,284.5 L468.4,284.5 L468.6,284.5 L468.8,284.5 L468.9,284.5 L469.1,284.5 L469.3,284.5 L469.5,284.5 L469.7,284.5 L469.9,284.5 L470.1,284.5 L470.3,284.5 L470.5,284.5 L470.7,284.5 L470.8,284.5 L471.0,284.5 L471.2,284.5 L471.4,284.5 L471.6,284.5 L471.8,284.5 L472.0,284.5 L472.2,284.5 L472.4,284.5 L472.6,284.5 L472.7,284.5 L472.9,284.5 L473.1,284.5 L473.3,284.5 L473.5,284.5 L473.7,284.5 L473.9,284.5 L474.1,284.5 L474.3,284.5 L474.5,284.5 L474.6,284.5 L474.8,284.5 L475.0,284.5 L475.2,284.5 L475.4,284.5 L475.6,284.5 L475.8,284.5 L476.0,284.5 L476.2,284.5 L476.4,284.5 L476.5,284.5 L476.7,284.5 L476.9,284.5 L477.1,284.5 L477.3,284.5 L477.5,284.5 L477.7,284.5 L477.9,284.5 L478.1,284.5 L478.3,284.5 L478.4,284.5 L478.6,284.5 L478.8,284.5 L479.0,284.5 L479.2,284.5 L479.4,284.5 L479.6,284.5 L479.8,284.5 L480.0,284.5 L480.2,284.5 L480.3,284.5 L480.5,284.5 L480.7,284.5 L480.9,284.5 L481.1,284.5 L481.3,284.5 L481.5,284.5 L481.7,284.5 L481.9,284.5 L482.1,284.5 L482.2,284.5 L482.4,284.5 L482.6,284.5 L482.8,284.5 L483.0,284.5 L483.2,284.5 L483.4,284.5 L483.6,284.5 L483.8,284.5 L484.0,284.5 L484.1,284.5 L484.3,284.5 L484.5,284.5 L484.7,284.5 L484.9,284.5 L485.1,284.5 L485.3,284.5 L485.5,284.5 L485.7,284.5 L485.9,284.5 L486.0,284.5 L486.2,284.5 L486.4,284.5 L486.6,284.5 L486.8,284.5 L487.0,284.5 L487.2,284.5 L487.4,284.5 L487.6,284.5 L487.8,284.5 L487.9,284.5 L488.1,284.5 L488.3,284.5 L488.5,284.5 L488.7,284.5 L488.9,284.5 L489.1,284.5 L489.3,284.5 L489.5,284.5 L489.7,284.5 L489.8,284.5 L490.0,284.5 L490.2,284.5 L490.4,284.5 L490.6,284.5 L490.8,284.5 L491.0,284.5 L491.2,284.5 L491.4,284.5 L491.6,284.5 L491.7,284.5 L491.9,284.5 L492.1,284.5 L492.3,284.5 L492.5,284.5 L492.7,284.5 L492.9,284.5 L493.1,284.5 L493.3,284.5 L493.5,284.5 L493.6,284.5 L493.8,284.5 L494.0,284.5 L494.2,284.5 L494.4,284.5 L494.6,284.5 L494.8,284.5 L495.0,284.5 L495.2,284.5 L495.4,284.5 L495.5,284.5 L495.7,284.5 L495.9,284.5 L496.1,284.5 L496.3,284.5 L496.5,284.5 L496.7,284.5 L496.9,284.5 L497.1,284.5 L497.3,284.5 L497.4,284.5 L497.6,284.5 L497.8,284.5 L498.0,284.5 L498.2,284.5 L498.4,284.5 L498.6,284.5 L498.8,284.5 L499.0,284.5 L499.2,284.5 L499.3,284.5 L499.5,284.5 L499.7,284.5 L499.9,284.5 L500.1,284.5 L500.3,284.5 L500.5,284.5 L500.7,284.5 L500.9,284.5 L501.1,284.5 L501.2,284.5 L501.4,284.5 L501.6,284.5 L501.8,284.5 L502.0,284.5 L502.2,284.5 L502.4,284.5 L502.6,284.5 L502.8,284.5 L503.0,284.5 L503.1,284.5 L503.3,284.5 L503.5,284.5 L503.7,284.5 L503.9,284.5 L504.1,284.5 L504.3,284.5 L504.5,284.5 L504.7,284.5 L504.9,284.5 L505.0,284.5 L505.2,284.5 L505.4,284.5 L505.6,284.5 L505.8,284.5 L506.0,284.5 L506.2,284.5 L506.4,284.5 L506.6,284.5 L506.8,284.5 L506.9,284.5 L507.1,284.5 L507.3,284.5 L507.5,284.5 L507.7,284.5 L507.9,284.5 L508.1,284.5 L508.3,284.5 L508.5,284.5 L508.7,284.5 L508.8,284.5 L509.0,284.5 L509.2,284.5 L509.4,284.5 L509.6,284.5 L509.8,284.5 L510.0,284.5 L510.2,284.5 L510.4,284.5 L510.6,284.5 L510.7,284.5 L510.9,284.5 L511.1,284.5 L511.3,284.5" stroke="#00ff00" stroke-width="1" stroke-dasharray="5.5 2.5"/>
</g>
<rect x="48.0" y="128.2" width="466.5" height="263.6" fill="none" stroke="#222" stroke-width="1"/>
<path d="M84.0,391.8v-5.0M84.0,128.2v5.0M131.5,391.8v-5.0M131.5,128.2v5.0M179.0,391.8v-5.0M179.0,128.2v5.0M226.5,391.8v-5.0M226.5,128.2v5.0M274.0,391.8v-5.0M274.0,128.2v5.0M321.5,391.8v-5.0M321.5,128.2v5.0M369.0,391.8v-5.0M369.0,128.2v5.0M416.5,391.8v-5.0M416.5,128.2v5.0M464.0,391.8v-5.0M464.0,128.2v5.0M511.5,391.8v-5.0M511.5,128.2v5.0M48.0,355.7h5.0M514.5,355.7h-5.0M48.0,317.1h5.0M514.5,317.1h-5.0M48.0,278.5h5.0M514.5,278.5h-5.0M48.0,240.0h5.0M514.5,240.0h-5.0M48.0,201.4h5.0M514.5,201.4h-5.0M48.0,162.8h5.0M514.5,162.8h-5.0" stroke="#222" stroke-width="1" fill="none"/>
<text class="tk" x="84.0" y="404.4" text-anchor="middle">0.005</text>
<text class="tk" x="131.5" y="404.4" text-anchor="middle">0.01</text>
<text class="tk" x="179.0" y="404.4" text-anchor="middle">0.015</text>
<text class="tk" x="226.5" y="404.4" text-anchor="middle">0.02</text>
<text class="tk" x="274.0" y="404.4" text-anchor="middle">0.025</text>
<text class="tk" x="321.5" y="404.4" text-anchor="middle">0.03</text>
<text class="tk" x="369.0" y="404.4" text-anchor="middle">0.035</text>
<text class="tk" x="416.5" y="404.4" text-anchor="middle">0.04</text>
<text class="tk" x="464.0" y="404.4" text-anchor="middle">0.045</text>
<text class="tk" x="511.5" y="404.4" text-anchor="middle">0.05</text>
<text class="tk" x="45" y="359.6" text-anchor="end">0</text>
<text class="tk" x="45" y="321.0" text-anchor="end">0.2</text>
<text class="tk" x="45" y="282.4" text-anchor="end">0.4</text>
<text class="tk" x="45" y="243.9" text-anchor="end">0.6</text>
<text class="tk" x="45" y="205.3" text-anchor="end">0.8</text>
<text class="tk" x="45" y="166.7" text-anchor="end">1</text>
<text class="lb" x="233.8" y="430.6">Time (in s)</text>
<text class="lb" transform="translate(15.3,291.8) rotate(-90)">V<tspan dx="-2.2" dy="6.6" font-size="11.2px" stroke="#1a1a1a" stroke-width="0.35">S</tspan><tspan dx="2.2" dy="-6.6">&#160;&#160;(in V)</tspan></text>
<rect x="362.1" y="331.2" width="142.8" height="52.3" fill="#fff" stroke="#222" stroke-width="1"/>
<path d="M368,347.2H399" stroke="#4a4aff" stroke-width="1"/>
<path d="M368,366H399" stroke="#40ff40" stroke-width="1" stroke-dasharray="5.5 2.5"/>
<text class="lg" x="409.9" y="351.8">Experimentation</text>
<text class="lg" x="409.9" y="369">Simulation</text>
</g>
<g id="inset">
<rect x="192" y="0" width="370" height="281.5" fill="#fff"/>
<path d="M243.4,1.5V265.7M278.0,1.5V265.7M312.5,1.5V265.7M347.1,1.5V265.7M381.6,1.5V265.7M416.2,1.5V265.7M450.8,1.5V265.7M485.3,1.5V265.7M519.9,1.5V265.7M210.6,238.7H533.9M210.6,202.8H533.9M210.6,166.9H533.9M210.6,131.0H533.9M210.6,95.1H533.9M210.6,59.2H533.9M210.6,23.3H533.9" stroke="#444" stroke-width="1" stroke-dasharray="1 2.3" fill="none"/>
<g clip-path="url(#ci)" fill="none" stroke-linejoin="round">
<path d="M208.8,230.9 L209.2,238.8 L209.5,243.2 L209.9,244.0 L210.2,241.5 L210.6,235.5 L210.9,226.2 L211.3,213.9 L211.6,198.8 L212.0,181.3 L212.3,161.9 L212.6,140.9 L213.0,118.9 L213.3,96.4 L213.7,73.9 L214.0,51.8 L214.4,30.8 L214.7,11.2 L215.1,-6.6 L215.4,-22.0 L215.8,-34.8 L216.1,-44.8 L216.4,-51.7 L216.8,-55.3 L217.1,-55.6 L217.5,-50.8 L217.8,-40.5 L218.2,-25.0 L218.5,-5.1 L218.9,18.6 L219.2,45.0 L219.6,73.3 L219.9,102.2 L220.2,130.8 L220.6,157.9 L220.9,182.5 L221.3,203.8 L221.6,221.0 L222.0,233.5 L222.3,240.9 L222.7,243.0 L223.0,241.7 L223.4,238.6 L223.7,233.6 L224.0,226.9 L224.4,218.6 L224.7,208.8 L225.1,197.7 L225.4,185.6 L225.8,172.5 L226.1,158.8 L226.5,144.6 L226.8,130.1 L227.2,115.6 L227.5,101.2 L227.8,87.2 L228.2,73.9 L228.5,61.3 L228.9,49.7 L229.2,39.2 L229.6,30.1 L229.9,22.3 L230.3,16.0 L230.6,11.3 L231.0,8.3 L231.3,6.9 L231.6,7.2 L232.0,8.4 L232.3,12.0 L232.7,18.2 L233.0,26.8 L233.4,37.8 L233.7,50.7 L234.1,65.3 L234.4,81.3 L234.8,98.3 L235.1,115.8 L235.5,133.6 L235.8,151.0 L236.1,167.8 L236.5,183.6 L236.8,197.9 L237.2,210.5 L237.5,221.0 L237.9,229.2 L238.2,235.0 L238.6,238.1 L238.9,238.6 L239.3,235.3 L239.6,229.3 L239.9,220.6 L240.3,209.5 L240.6,196.2 L241.0,181.2 L241.3,164.7 L241.7,147.3 L242.0,129.4 L242.4,111.3 L242.7,93.6 L243.1,76.7 L243.4,61.0 L243.7,46.8 L244.1,34.6 L244.4,24.6 L244.8,16.9 L245.1,11.9 L245.5,9.5 L245.8,9.8 L246.2,12.4 L246.5,16.9 L246.9,23.2 L247.2,31.2 L247.5,40.7 L247.9,51.5 L248.2,63.4 L248.6,76.1 L248.9,89.3 L249.3,102.9 L249.6,116.4 L250.0,129.6 L250.3,142.4 L250.7,154.4 L251.0,165.3 L251.3,175.1 L251.7,183.4 L252.0,190.3 L252.4,195.4 L252.7,198.9 L253.1,200.5 L253.4,200.3 L253.8,199.5 L254.1,196.8 L254.5,192.4 L254.8,186.3 L255.2,178.6 L255.5,169.5 L255.8,159.1 L256.2,147.8 L256.5,135.7 L256.9,123.2 L257.2,110.3 L257.6,97.5 L257.9,85.0 L258.3,73.0 L258.6,61.9 L259.0,51.7 L259.3,42.8 L259.6,35.4 L260.0,29.5 L260.3,25.4 L260.7,23.1 L261.0,22.7 L261.4,24.8 L261.7,29.1 L262.1,35.4 L262.4,43.5 L262.8,53.4 L263.1,64.7 L263.4,77.2 L263.8,90.6 L264.1,104.6 L264.5,119.0 L264.8,133.3 L265.2,147.2 L265.5,160.5 L265.9,172.8 L266.2,184.0 L266.6,193.6 L266.9,201.6 L267.2,207.7 L267.6,211.9 L267.9,214.1 L268.3,214.1 L268.6,212.8 L269.0,210.1 L269.3,206.3 L269.7,201.3 L270.0,195.2 L270.4,188.2 L270.7,180.4 L271.0,171.9 L271.4,162.8 L271.7,153.4 L272.1,143.7 L272.4,134.0 L272.8,124.3 L273.1,114.9 L273.5,105.8 L273.8,97.3 L274.2,89.4 L274.5,82.3 L274.8,76.1 L275.2,70.9 L275.5,66.7 L275.9,63.7 L276.2,61.8 L276.6,61.1 L276.9,61.4 L277.3,62.5 L277.6,65.4 L278.0,70.1 L278.3,76.4 L278.7,84.1 L279.0,93.2 L279.3,103.4 L279.7,114.4 L280.0,126.1 L280.4,138.0 L280.7,150.0 L281.1,161.8 L281.4,173.1 L281.8,183.6 L282.1,193.0 L282.5,201.3 L282.8,208.0 L283.1,213.2 L283.5,216.6 L283.8,218.2 L284.2,217.3 L284.5,214.3 L284.9,209.2 L285.2,202.2 L285.6,193.5 L285.9,183.3 L286.3,171.9 L286.6,159.6 L286.9,146.6 L287.3,133.5 L287.6,120.4 L288.0,107.8 L288.3,95.9 L288.7,85.1 L289.0,75.7 L289.4,67.9 L289.7,61.9 L290.1,57.9 L290.4,55.8 L290.7,55.9 L291.1,57.4 L291.4,60.2 L291.8,64.1 L292.1,69.2 L292.5,75.4 L292.8,82.4 L293.2,90.3 L293.5,98.8 L293.9,107.8 L294.2,117.1 L294.5,126.6 L294.9,136.0 L295.2,145.4 L295.6,154.3 L295.9,162.9 L296.3,170.7 L296.6,177.9 L297.0,184.1 L297.3,189.4 L297.7,193.5 L298.0,196.6 L298.4,198.5 L298.7,199.1 L299.0,199.0 L299.4,197.4 L299.7,194.2 L300.1,189.6 L300.4,183.6 L300.8,176.4 L301.1,168.2 L301.5,159.0 L301.8,149.2 L302.2,139.0 L302.5,128.5 L302.8,118.0 L303.2,107.8 L303.5,98.0 L303.9,88.9 L304.2,80.7 L304.6,73.6 L304.9,67.7 L305.3,63.2 L305.6,60.2 L306.0,58.6 L306.3,58.9 L306.6,61.2 L307.0,65.3 L307.3,71.2 L307.7,78.7 L308.0,87.6 L308.4,97.7 L308.7,108.6 L309.1,120.1 L309.4,131.9 L309.8,143.6 L310.1,155.0 L310.4,165.7 L310.8,175.5 L311.1,184.1 L311.5,191.2 L311.8,196.8 L312.2,200.6 L312.5,202.6 L312.9,202.8 L313.2,201.7 L313.6,199.1 L313.9,195.3 L314.2,190.2 L314.6,184.0 L314.9,176.9 L315.3,168.9 L315.6,160.3 L316.0,151.2 L316.3,141.8 L316.7,132.3 L317.0,123.0 L317.4,113.9 L317.7,105.4 L318.0,97.5 L318.4,90.5 L318.7,84.5 L319.1,79.6 L319.4,75.9 L319.8,73.5 L320.1,72.5 L320.5,72.6 L320.8,74.2 L321.2,77.4 L321.5,82.1 L321.9,88.2 L322.2,95.6 L322.5,104.2 L322.9,113.6 L323.2,123.8 L323.6,134.4 L323.9,145.3 L324.3,156.0 L324.6,166.5 L325.0,176.4 L325.3,185.4 L325.7,193.5 L326.0,200.3 L326.3,205.7 L326.7,209.6 L327.0,211.8 L327.4,212.4 L327.7,210.7 L328.1,207.3 L328.4,202.4 L328.8,196.1 L329.1,188.5 L329.5,179.9 L329.8,170.3 L330.1,160.1 L330.5,149.4 L330.8,138.6 L331.2,127.8 L331.5,117.4 L331.9,107.5 L332.2,98.4 L332.6,90.2 L332.9,83.2 L333.3,77.5 L333.6,73.2 L333.9,70.5 L334.3,69.3 L334.6,69.7 L335.0,71.5 L335.3,74.4 L335.7,78.5 L336.0,83.7 L336.4,89.8 L336.7,96.7 L337.1,104.3 L337.4,112.4 L337.7,120.8 L338.1,129.5 L338.4,138.2 L338.8,146.7 L339.1,155.0 L339.5,162.8 L339.8,169.9 L340.2,176.4 L340.5,181.9 L340.9,186.5 L341.2,190.1 L341.6,192.6 L341.9,194.5 L342.2,195.3 L342.6,194.7 L342.9,192.6 L343.3,189.0 L343.6,184.1 L344.0,178.0 L344.3,170.7 L344.7,162.6 L345.0,153.8 L345.4,144.4 L345.7,134.9 L346.0,125.3 L346.4,115.9 L346.7,107.1 L347.1,98.9 L347.4,91.6 L347.8,85.4 L348.1,80.4 L348.5,76.7 L348.8,74.6 L349.2,73.9 L349.5,75.1 L349.8,77.9 L350.2,82.2 L350.5,87.8 L350.9,94.7 L351.2,102.7 L351.6,111.6 L351.9,121.1 L352.3,131.0 L352.6,141.0 L353.0,151.0 L353.3,160.6 L353.6,169.7 L354.0,178.0 L354.3,185.2 L354.7,191.3 L355.0,196.1 L355.4,199.4 L355.7,201.3 L356.1,201.6 L356.4,200.2 L356.8,197.4 L357.1,193.4 L357.4,188.2 L357.8,182.0 L358.1,175.0 L358.5,167.2 L358.8,159.0 L359.2,150.5 L359.5,141.9 L359.9,133.4 L360.2,125.2 L360.6,117.5 L360.9,110.6 L361.2,104.4 L361.6,99.3 L361.9,95.2 L362.3,92.4 L362.6,90.7 L363.0,90.4 L363.3,90.8 L363.7,92.5 L364.0,95.3 L364.4,99.3 L364.7,104.3 L365.1,110.2 L365.4,116.8 L365.7,124.1 L366.1,131.8 L366.4,139.8 L366.8,147.8 L367.1,155.7 L367.5,163.3 L367.8,170.5 L368.2,176.9 L368.5,182.6 L368.9,187.3 L369.2,190.9 L369.5,193.5 L369.9,194.8 L370.2,194.8 L370.6,193.5 L370.9,190.9 L371.3,187.2 L371.6,182.4 L372.0,176.7 L372.3,170.1 L372.7,162.9 L373.0,155.2 L373.3,147.1 L373.7,138.9 L374.0,130.7 L374.4,122.8 L374.7,115.3 L375.1,108.4 L375.4,102.2 L375.8,96.8 L376.1,92.5 L376.5,89.2 L376.8,87.1 L377.1,86.2 L377.5,86.7 L377.8,88.3 L378.2,91.0 L378.5,94.7 L378.9,99.3 L379.2,104.6 L379.6,110.6 L379.9,117.1 L380.3,123.9 L380.6,131.0 L380.9,138.0 L381.3,145.0 L381.6,151.6 L382.0,157.9 L382.3,163.6 L382.7,168.6 L383.0,172.8 L383.4,176.2 L383.7,178.6 L384.1,180.0 L384.4,180.5 L384.8,180.4 L385.1,179.3 L385.4,177.5 L385.8,174.8 L386.1,171.4 L386.5,167.4 L386.8,162.7 L387.2,157.6 L387.5,152.0 L387.9,146.2 L388.2,140.2 L388.6,134.2 L388.9,128.3 L389.2,122.6 L389.6,117.2 L389.9,112.2 L390.3,107.7 L390.6,103.8 L391.0,100.6 L391.3,98.1 L391.7,96.4 L392.0,95.6 L392.4,95.5 L392.7,96.6 L393.0,98.7 L393.4,101.8 L393.7,105.8 L394.1,110.7 L394.4,116.2 L394.8,122.3 L395.1,128.8 L395.5,135.5 L395.8,142.3 L396.2,148.9 L396.5,155.3 L396.8,161.3 L397.2,166.7 L397.5,171.5 L397.9,175.4 L398.2,178.4 L398.6,180.4 L398.9,181.5 L399.3,181.3 L399.6,180.3 L400.0,178.4 L400.3,175.7 L400.6,172.4 L401.0,168.4 L401.3,163.9 L401.7,159.0 L402.0,153.7 L402.4,148.3 L402.7,142.8 L403.1,137.4 L403.4,132.1 L403.8,127.1 L404.1,122.5 L404.4,118.4 L404.8,114.9 L405.1,112.0 L405.5,109.8 L405.8,108.4 L406.2,107.7 L406.5,107.7 L406.9,108.2 L407.2,109.4 L407.6,111.3 L407.9,113.8 L408.3,117.0 L408.6,120.6 L408.9,124.6 L409.3,129.0 L409.6,133.6 L410.0,138.4 L410.3,143.2 L410.7,147.9 L411.0,152.5 L411.4,156.8 L411.7,160.8 L412.1,164.3 L412.4,167.3 L412.7,169.8 L413.1,171.6 L413.4,172.8 L413.8,173.3 L414.1,173.1 L414.5,172.1 L414.8,170.1 L415.2,167.3 L415.5,163.7 L415.9,159.5 L416.2,154.7 L416.5,149.5 L416.9,144.1 L417.2,138.5 L417.6,133.1 L417.9,127.8 L418.3,122.9 L418.6,118.5 L419.0,114.8 L419.3,111.7 L419.7,109.5 L420.0,108.1 L420.3,107.7 L420.7,108.2 L421.0,109.5 L421.4,111.5 L421.7,114.2 L422.1,117.5 L422.4,121.2 L422.8,125.4 L423.1,129.8 L423.5,134.5 L423.8,139.2 L424.1,143.9 L424.5,148.4 L424.8,152.7 L425.2,156.7 L425.5,160.2 L425.9,163.1 L426.2,165.5 L426.6,167.3 L426.9,168.3 L427.3,168.7 L427.6,168.6 L428.0,168.0 L428.3,167.0 L428.6,165.5 L429.0,163.6 L429.3,161.4 L429.7,158.8 L430.0,155.9 L430.4,152.8 L430.7,149.5 L431.1,146.1 L431.4,142.6 L431.8,139.1 L432.1,135.6 L432.4,132.3 L432.8,129.2 L433.1,126.2 L433.5,123.6 L433.8,121.3 L434.2,119.3 L434.5,117.7 L434.9,116.5 L435.2,115.8 L435.6,115.5 L435.9,115.7 L436.2,116.6 L436.6,118.2 L436.9,120.3 L437.3,123.1 L437.6,126.3 L438.0,130.0 L438.3,134.0 L438.7,138.2 L439.0,142.6 L439.4,146.9 L439.7,151.2 L440.0,155.2 L440.4,159.0 L440.7,162.3 L441.1,165.2 L441.4,167.6 L441.8,169.3 L442.1,170.4 L442.5,170.8 L442.8,170.4 L443.2,169.4 L443.5,167.7 L443.8,165.5 L444.2,162.9 L444.5,159.7 L444.9,156.3 L445.2,152.6 L445.6,148.8 L445.9,145.0 L446.3,141.2 L446.6,137.5 L447.0,134.1 L447.3,131.1 L447.6,128.4 L448.0,126.2 L448.3,124.5 L448.7,123.4 L449.0,122.8 L449.4,122.8 L449.7,123.0 L450.1,123.7 L450.4,124.7 L450.8,126.1 L451.1,127.8 L451.5,129.8 L451.8,132.1 L452.1,134.5 L452.5,137.1 L452.8,139.9 L453.2,142.6 L453.5,145.5 L453.9,148.2 L454.2,150.9 L454.6,153.5 L454.9,155.8 L455.3,158.0 L455.6,159.9 L455.9,161.5 L456.3,162.7 L456.6,163.7 L457.0,164.3 L457.3,164.5 L457.7,164.3 L458.0,163.5 L458.4,162.1 L458.7,160.0 L459.1,157.4 L459.4,154.4 L459.7,151.0 L460.1,147.4 L460.4,143.7 L460.8,139.9 L461.1,136.3 L461.5,132.9 L461.8,129.9 L462.2,127.3 L462.5,125.3 L462.9,123.8 L463.2,123.0 L463.5,122.8 L463.9,123.1 L464.2,123.8 L464.6,124.8 L464.9,126.1 L465.3,127.6 L465.6,129.4 L466.0,131.4 L466.3,133.5 L466.7,135.7 L467.0,138.1 L467.3,140.5 L467.7,142.9 L468.0,145.2 L468.4,147.5 L468.7,149.7 L469.1,151.7 L469.4,153.6 L469.8,155.2 L470.1,156.6 L470.5,157.8 L470.8,158.7 L471.2,159.3 L471.5,159.6 L471.8,159.8 L472.2,159.6 L472.5,158.9 L472.9,157.8 L473.2,156.2 L473.6,154.3 L473.9,152.0 L474.3,149.5 L474.6,146.8 L475.0,144.1 L475.3,141.3 L475.6,138.6 L476.0,136.1 L476.3,133.8 L476.7,131.9 L477.0,130.3 L477.4,129.1 L477.7,128.4 L478.1,128.1 L478.4,128.3 L478.8,128.7 L479.1,129.5 L479.4,130.5 L479.8,131.8 L480.1,133.3 L480.5,135.0 L480.8,136.9 L481.2,138.9 L481.5,141.0 L481.9,143.2 L482.2,145.5 L482.6,147.7 L482.9,149.9 L483.2,152.0 L483.6,154.0 L483.9,155.8 L484.3,157.5 L484.6,158.9 L485.0,160.1 L485.3,161.1 L485.7,161.8 L486.0,162.2 L486.4,162.2 L486.7,161.8 L487.0,161.1 L487.4,160.1 L487.7,158.8 L488.1,157.2 L488.4,155.3 L488.8,153.3 L489.1,151.1 L489.5,148.9 L489.8,146.6 L490.2,144.4 L490.5,142.2 L490.8,140.2 L491.2,138.3 L491.5,136.7 L491.9,135.3 L492.2,134.2 L492.6,133.4 L492.9,132.9 L493.3,132.8 L493.6,132.8 L494.0,133.1 L494.3,133.7 L494.7,134.5 L495.0,135.6 L495.3,136.9 L495.7,138.5 L496.0,140.2 L496.4,142.0 L496.7,143.9 L497.1,145.9 L497.4,147.9 L497.8,149.9 L498.1,151.8 L498.5,153.6 L498.8,155.3 L499.1,156.7 L499.5,158.0 L499.8,159.0 L500.2,159.8 L500.5,160.2 L500.9,160.5 L501.2,160.4 L501.6,160.0 L501.9,159.2 L502.3,158.1 L502.6,156.7 L502.9,155.0 L503.3,153.1 L503.6,151.0 L504.0,148.8 L504.3,146.4 L504.7,144.0 L505.0,141.6 L505.4,139.3 L505.7,137.1 L506.1,135.0 L506.4,133.2 L506.7,131.7 L507.1,130.4 L507.4,129.5 L507.8,129.0 L508.1,128.8 L508.5,129.1 L508.8,129.6 L509.2,130.5 L509.5,131.7 L509.9,133.1 L510.2,134.9 L510.5,136.8 L510.9,139.0 L511.2,141.2 L511.6,143.6 L511.9,146.0 L512.3,148.4 L512.6,150.7 L513.0,152.9 L513.3,155.0 L513.7,156.8 L514.0,158.4 L514.4,159.8 L514.7,160.8 L515.0,161.5 L515.4,161.8 L515.7,161.9 L516.1,161.7 L516.4,161.2 L516.8,160.6 L517.1,159.6 L517.5,158.4 L517.8,156.9 L518.2,155.2 L518.5,153.3 L518.8,151.3 L519.2,149.1 L519.5,146.8 L519.9,144.5 L520.2,142.2 L520.6,139.9 L520.9,137.7 L521.3,135.6 L521.6,133.7 L522.0,131.9 L522.3,130.4 L522.6,129.2 L523.0,128.2 L523.3,127.5 L523.7,127.2 L524.0,127.1 L524.4,127.5 L524.7,128.4 L525.1,129.6 L525.4,131.3 L525.8,133.2 L526.1,135.5 L526.4,138.1 L526.8,140.8 L527.1,143.8 L527.5,146.8 L527.8,149.8 L528.2,152.7 L528.5,155.6 L528.9,158.3 L529.2,160.7 L529.6,162.9 L529.9,164.7 L530.2,166.2 L530.6,167.2 L530.9,167.7 L531.3,167.9 L531.6,167.6 L532.0,166.8 L532.3,165.6 L532.7,164.0 L533.0,162.1 L533.4,159.8 L533.7,157.3 L534.0,154.5 L534.4,151.6 L534.7,148.6 L535.1,145.5" stroke="#0000ff" stroke-width="1"/>
<path d="M208.8,157.9 L209.2,138.6 L209.5,119.6 L209.9,101.2 L210.2,83.8 L210.6,67.7 L210.9,53.3 L211.3,40.7 L211.6,30.3 L212.0,22.1 L212.3,16.4 L212.6,13.2 L213.0,12.5 L213.3,13.9 L213.7,17.4 L214.0,23.0 L214.4,30.6 L214.7,39.9 L215.1,51.0 L215.4,63.4 L215.8,77.0 L216.1,91.5 L216.4,106.7 L216.8,122.3 L217.1,137.9 L217.5,153.4 L217.8,168.4 L218.2,182.7 L218.5,196.1 L218.9,208.2 L219.2,218.9 L219.6,228.1 L219.9,235.5 L220.2,241.0 L220.6,244.6 L220.9,246.2 L221.3,246.2 L221.6,244.6 L222.0,241.1 L222.3,235.7 L222.7,228.5 L223.0,219.6 L223.4,209.3 L223.7,197.6 L224.0,184.8 L224.4,171.2 L224.7,156.9 L225.1,142.3 L225.4,127.5 L225.8,112.8 L226.1,98.6 L226.5,85.0 L226.8,72.2 L227.2,60.6 L227.5,50.3 L227.8,41.4 L228.2,34.2 L228.5,28.7 L228.9,25.1 L229.2,23.4 L229.6,24.0 L229.9,27.1 L230.3,32.5 L230.6,40.1 L231.0,49.7 L231.3,61.2 L231.6,74.1 L232.0,88.4 L232.3,103.5 L232.7,119.3 L233.0,135.4 L233.4,151.4 L233.7,167.0 L234.1,181.8 L234.4,195.6 L234.8,208.0 L235.1,218.9 L235.5,227.9 L235.8,235.0 L236.1,239.9 L236.5,242.6 L236.8,243.1 L237.2,241.3 L237.5,237.4 L237.9,231.4 L238.2,223.5 L238.6,213.9 L238.9,202.9 L239.3,190.6 L239.6,177.4 L239.9,163.5 L240.3,149.3 L240.6,135.2 L241.0,121.3 L241.3,108.1 L241.7,95.8 L242.0,84.6 L242.4,74.9 L242.7,66.8 L243.1,60.5 L243.4,56.1 L243.7,53.8 L244.1,53.5 L244.4,54.6 L244.8,57.6 L245.1,62.4 L245.5,69.1 L245.8,77.3 L246.2,86.9 L246.5,97.8 L246.9,109.7 L247.2,122.3 L247.5,135.4 L247.9,148.8 L248.2,162.0 L248.6,175.0 L248.9,187.3 L249.3,198.8 L249.6,209.2 L250.0,218.2 L250.3,225.8 L250.7,231.8 L251.0,236.0 L251.3,238.3 L251.7,238.8 L252.0,237.4 L252.4,233.8 L252.7,228.4 L253.1,221.3 L253.4,212.7 L253.8,202.8 L254.1,191.8 L254.5,180.0 L254.8,167.6 L255.2,154.8 L255.5,141.9 L255.8,129.2 L256.2,116.9 L256.5,105.3 L256.9,94.6 L257.2,85.0 L257.6,76.8 L257.9,70.0 L258.3,64.8 L258.6,61.2 L259.0,59.4 L259.3,59.4 L259.6,60.9 L260.0,64.0 L260.3,68.5 L260.7,74.5 L261.0,81.7 L261.4,90.0 L261.7,99.2 L262.1,109.2 L262.4,119.7 L262.8,130.5 L263.1,141.5 L263.4,152.4 L263.8,162.9 L264.1,173.0 L264.5,182.4 L264.8,190.8 L265.2,198.3 L265.5,204.5 L265.9,209.5 L266.2,213.0 L266.6,215.2 L266.9,215.8 L267.2,215.0 L267.6,213.0 L267.9,209.6 L268.3,204.8 L268.6,198.8 L269.0,191.7 L269.3,183.5 L269.7,174.5 L270.0,164.8 L270.4,154.7 L270.7,144.3 L271.0,133.7 L271.4,123.3 L271.7,113.2 L272.1,103.6 L272.4,94.7 L272.8,86.6 L273.1,79.5 L273.5,73.6 L273.8,68.9 L274.2,65.5 L274.5,63.4 L274.8,62.8 L275.2,63.8 L275.5,66.3 L275.9,70.1 L276.2,75.1 L276.6,81.3 L276.9,88.6 L277.3,96.7 L277.6,105.6 L278.0,115.0 L278.3,124.7 L278.7,134.6 L279.0,144.5 L279.3,154.2 L279.7,163.4 L280.0,172.1 L280.4,180.1 L280.7,187.1 L281.1,193.1 L281.4,198.0 L281.8,201.7 L282.1,204.1 L282.5,205.2 L282.8,205.0 L283.1,203.4 L283.5,200.7 L283.8,196.7 L284.2,191.6 L284.5,185.7 L284.9,178.9 L285.2,171.3 L285.6,163.2 L285.9,154.6 L286.3,145.7 L286.6,136.7 L286.9,127.9 L287.3,119.3 L287.6,111.1 L288.0,103.5 L288.3,96.6 L288.7,90.6 L289.0,85.7 L289.4,81.7 L289.7,79.0 L290.1,77.5 L290.4,77.1 L290.7,77.9 L291.1,79.8 L291.4,82.9 L291.8,87.0 L292.1,92.2 L292.5,98.2 L292.8,105.0 L293.2,112.5 L293.5,120.6 L293.9,129.0 L294.2,137.6 L294.5,146.3 L294.9,154.9 L295.2,163.2 L295.6,171.1 L295.9,178.5 L296.3,185.2 L296.6,191.1 L297.0,196.0 L297.3,200.0 L297.7,202.9 L298.0,204.6 L298.4,205.2 L298.7,204.7 L299.0,203.0 L299.4,200.2 L299.7,196.1 L300.1,191.1 L300.4,185.3 L300.8,178.6 L301.1,171.4 L301.5,163.7 L301.8,155.6 L302.2,147.4 L302.5,139.1 L302.8,130.9 L303.2,123.0 L303.5,115.5 L303.9,108.6 L304.2,102.4 L304.6,96.9 L304.9,92.4 L305.3,88.8 L305.6,86.2 L306.0,84.7 L306.3,84.3 L306.6,85.0 L307.0,86.7 L307.3,89.4 L307.7,93.0 L308.0,97.5 L308.4,102.8 L308.7,108.8 L309.1,115.3 L309.4,122.4 L309.8,129.7 L310.1,137.3 L310.4,144.9 L310.8,152.4 L311.1,159.7 L311.5,166.7 L311.8,173.2 L312.2,179.2 L312.5,184.4 L312.9,188.9 L313.2,192.6 L313.6,195.3 L313.9,197.1 L314.2,197.9 L314.6,197.8 L314.9,196.6 L315.3,194.5 L315.6,191.5 L316.0,187.6 L316.3,183.0 L316.7,177.7 L317.0,171.7 L317.4,165.3 L317.7,158.6 L318.0,151.5 L318.4,144.4 L318.7,137.3 L319.1,130.3 L319.4,123.6 L319.8,117.2 L320.1,111.3 L320.5,106.1 L320.8,101.5 L321.2,97.6 L321.5,94.6 L321.9,92.5 L322.2,91.2 L322.5,90.9 L322.9,91.5 L323.2,93.1 L323.6,95.6 L323.9,99.0 L324.3,103.2 L324.6,108.1 L325.0,113.7 L325.3,119.7 L325.7,126.2 L326.0,132.9 L326.3,139.7 L326.7,146.6 L327.0,153.3 L327.4,159.8 L327.7,165.9 L328.1,171.5 L328.4,176.5 L328.8,180.8 L329.1,184.4 L329.5,187.2 L329.8,189.0 L330.1,190.0 L330.5,190.1 L330.8,189.2 L331.2,187.5 L331.5,184.9 L331.9,181.5 L332.2,177.4 L332.6,172.6 L332.9,167.3 L333.3,161.6 L333.6,155.5 L333.9,149.2 L334.3,142.7 L334.6,136.4 L335.0,130.1 L335.3,124.2 L335.7,118.6 L336.0,113.5 L336.4,109.0 L336.7,105.1 L337.1,101.9 L337.4,99.6 L337.7,98.0 L338.1,97.3 L338.4,97.4 L338.8,98.6 L339.1,100.8 L339.5,103.9 L339.8,107.8 L340.2,112.6 L340.5,117.9 L340.9,123.8 L341.2,130.1 L341.6,136.6 L341.9,143.2 L342.2,149.7 L342.6,155.9 L342.9,161.8 L343.3,167.2 L343.6,171.9 L344.0,175.9 L344.3,179.0 L344.7,181.2 L345.0,182.5 L345.4,182.8 L345.7,182.2 L346.0,180.6 L346.4,178.1 L346.7,174.8 L347.1,170.7 L347.4,166.0 L347.8,160.7 L348.1,155.0 L348.5,149.0 L348.8,142.9 L349.2,136.7 L349.5,130.7 L349.8,125.0 L350.2,119.7 L350.5,114.9 L350.9,110.8 L351.2,107.4 L351.6,104.8 L351.9,103.1 L352.3,102.3 L352.6,102.4 L353.0,103.2 L353.3,104.8 L353.6,107.0 L354.0,109.9 L354.3,113.3 L354.7,117.3 L355.0,121.7 L355.4,126.5 L355.7,131.5 L356.1,136.7 L356.4,142.0 L356.8,147.2 L357.1,152.3 L357.4,157.2 L357.8,161.7 L358.1,165.9 L358.5,169.5 L358.8,172.6 L359.2,175.1 L359.5,176.9 L359.9,178.0 L360.2,178.5 L360.6,178.2 L360.9,177.2 L361.2,175.6 L361.6,173.3 L361.9,170.4 L362.3,166.9 L362.6,162.9 L363.0,158.6 L363.3,153.9 L363.7,149.0 L364.0,144.0 L364.4,139.0 L364.7,134.0 L365.1,129.2 L365.4,124.7 L365.7,120.4 L366.1,116.6 L366.4,113.3 L366.8,110.5 L367.1,108.3 L367.5,106.7 L367.8,105.8 L368.2,105.5 L368.5,105.9 L368.9,107.0 L369.2,108.7 L369.5,110.9 L369.9,113.7 L370.2,117.0 L370.6,120.6 L370.9,124.7 L371.3,128.9 L371.6,133.4 L372.0,137.9 L372.3,142.5 L372.7,146.9 L373.0,151.2 L373.3,155.3 L373.7,159.1 L374.0,162.5 L374.4,165.4 L374.7,167.9 L375.1,169.8 L375.4,171.1 L375.8,171.9 L376.1,172.0 L376.5,171.6 L376.8,170.5 L377.1,168.9 L377.5,166.9 L377.8,164.3 L378.2,161.4 L378.5,158.0 L378.9,154.3 L379.2,150.4 L379.6,146.3 L379.9,142.1 L380.3,137.9 L380.6,133.7 L380.9,129.7 L381.3,125.9 L381.6,122.4 L382.0,119.2 L382.3,116.5 L382.7,114.2 L383.0,112.4 L383.4,111.1 L383.7,110.4 L384.1,110.2 L384.4,110.6 L384.8,111.8 L385.1,113.6 L385.4,116.0 L385.8,119.0 L386.1,122.4 L386.5,126.2 L386.8,130.4 L387.2,134.7 L387.5,139.2 L387.9,143.6 L388.2,148.0 L388.6,152.1 L388.9,156.0 L389.2,159.4 L389.6,162.4 L389.9,164.9 L390.3,166.7 L390.6,168.0 L391.0,168.5 L391.3,168.5 L391.7,167.7 L392.0,166.4 L392.4,164.4 L392.7,161.9 L393.0,158.9 L393.4,155.5 L393.7,151.8 L394.1,147.8 L394.4,143.7 L394.8,139.6 L395.1,135.4 L395.5,131.5 L395.8,127.8 L396.2,124.4 L396.5,121.4 L396.8,118.9 L397.2,116.9 L397.5,115.5 L397.9,114.7 L398.2,114.5 L398.6,114.8 L398.9,115.6 L399.3,116.9 L399.6,118.6 L400.0,120.7 L400.3,123.2 L400.6,126.0 L401.0,129.0 L401.3,132.2 L401.7,135.6 L402.0,139.0 L402.4,142.5 L402.7,145.9 L403.1,149.1 L403.4,152.2 L403.8,155.1 L404.1,157.6 L404.4,159.9 L404.8,161.7 L405.1,163.2 L405.5,164.2 L405.8,164.8 L406.2,165.0 L406.5,164.7 L406.9,163.9 L407.2,162.7 L407.6,161.2 L407.9,159.2 L408.3,157.0 L408.6,154.4 L408.9,151.7 L409.3,148.7 L409.6,145.6 L410.0,142.5 L410.3,139.4 L410.7,136.3 L411.0,133.3 L411.4,130.4 L411.7,127.8 L412.1,125.5 L412.4,123.4 L412.7,121.7 L413.1,120.4 L413.4,119.4 L413.8,118.9 L414.1,118.8 L414.5,119.1 L414.8,119.8 L415.2,120.9 L415.5,122.4 L415.9,124.4 L416.2,126.6 L416.5,129.1 L416.9,131.9 L417.2,134.8 L417.6,137.9 L417.9,141.0 L418.3,144.1 L418.6,147.1 L419.0,150.0 L419.3,152.7 L419.7,155.1 L420.0,157.2 L420.3,159.0 L420.7,160.4 L421.0,161.5 L421.4,162.1 L421.7,162.2 L422.1,161.9 L422.4,161.2 L422.8,160.1 L423.1,158.6 L423.5,156.8 L423.8,154.6 L424.1,152.2 L424.5,149.5 L424.8,146.7 L425.2,143.8 L425.5,140.8 L425.9,137.8 L426.2,134.9 L426.6,132.2 L426.9,129.6 L427.3,127.2 L427.6,125.1 L428.0,123.4 L428.3,122.0 L428.6,121.0 L429.0,120.4 L429.3,120.2 L429.7,120.5 L430.0,121.1 L430.4,122.1 L430.7,123.4 L431.1,125.1 L431.4,127.0 L431.8,129.2 L432.1,131.6 L432.4,134.2 L432.8,136.9 L433.1,139.6 L433.5,142.4 L433.8,145.1 L434.2,147.8 L434.5,150.3 L434.9,152.6 L435.2,154.7 L435.6,156.6 L435.9,158.1 L436.2,159.4 L436.6,160.2 L436.9,160.8 L437.3,160.9 L437.6,160.7 L438.0,160.1 L438.3,159.2 L438.7,158.0 L439.0,156.4 L439.4,154.6 L439.7,152.5 L440.0,150.2 L440.4,147.7 L440.7,145.2 L441.1,142.6 L441.4,140.0 L441.8,137.4 L442.1,134.9 L442.5,132.5 L442.8,130.4 L443.2,128.4 L443.5,126.7 L443.8,125.3 L444.2,124.1 L444.5,123.3 L444.9,122.9 L445.2,122.7 L445.6,123.0 L445.9,123.6 L446.3,124.6 L446.6,126.0 L447.0,127.6 L447.3,129.6 L447.6,131.7 L448.0,134.1 L448.3,136.6 L448.7,139.2 L449.0,141.8 L449.4,144.4 L449.7,146.9 L450.1,149.3 L450.4,151.5 L450.8,153.4 L451.1,155.1 L451.5,156.5 L451.8,157.5 L452.1,158.2 L452.5,158.5 L452.8,158.5 L453.2,158.0 L453.5,157.3 L453.9,156.1 L454.2,154.7 L454.6,153.0 L454.9,151.0 L455.3,148.9 L455.6,146.5 L455.9,144.1 L456.3,141.6 L456.6,139.2 L457.0,136.7 L457.3,134.4 L457.7,132.3 L458.0,130.3 L458.4,128.6 L458.7,127.1 L459.1,126.0 L459.4,125.2 L459.7,124.7 L460.1,124.5 L460.4,124.7 L460.8,125.3 L461.1,126.1 L461.5,127.2 L461.8,128.6 L462.2,130.2 L462.5,132.0 L462.9,133.9 L463.2,136.0 L463.5,138.2 L463.9,140.4 L464.2,142.6 L464.6,144.7 L464.9,146.8 L465.3,148.7 L465.6,150.5 L466.0,152.1 L466.3,153.5 L466.7,154.6 L467.0,155.4 L467.3,155.9 L467.7,156.2 L468.0,156.1 L468.4,155.8 L468.7,155.1 L469.1,154.2 L469.4,153.1 L469.8,151.7 L470.1,150.1 L470.5,148.3 L470.8,146.4 L471.2,144.5 L471.5,142.4 L471.8,140.4 L472.2,138.3 L472.5,136.4 L472.9,134.5 L473.2,132.8 L473.6,131.2 L473.9,129.8 L474.3,128.7 L474.6,127.8 L475.0,127.1 L475.3,126.8 L475.6,126.7 L476.0,126.9 L476.3,127.4 L476.7,128.1 L477.0,129.1 L477.4,130.3 L477.7,131.8 L478.1,133.4 L478.4,135.1 L478.8,137.0 L479.1,138.9 L479.4,140.9 L479.8,142.8 L480.1,144.7 L480.5,146.4 L480.8,148.1 L481.2,149.6 L481.5,150.9 L481.9,152.0 L482.2,152.9 L482.6,153.5 L482.9,153.8 L483.2,153.9 L483.6,153.8 L483.9,153.4 L484.3,152.7 L484.6,151.8 L485.0,150.6 L485.3,149.3 L485.7,147.8 L486.0,146.2 L486.4,144.5 L486.7,142.7 L487.0,140.9 L487.4,139.2 L487.7,137.4 L488.1,135.8 L488.4,134.2 L488.8,132.8 L489.1,131.6 L489.5,130.6 L489.8,129.8 L490.2,129.2 L490.5,128.9 L490.8,128.8 L491.2,129.0 L491.5,129.4 L491.9,130.1 L492.2,131.0 L492.6,132.0 L492.9,133.3 L493.3,134.7 L493.6,136.2 L494.0,137.8 L494.3,139.4 L494.7,141.1 L495.0,142.8 L495.3,144.4 L495.7,146.0 L496.0,147.4 L496.4,148.7 L496.7,149.9 L497.1,150.8 L497.4,151.6 L497.8,152.1 L498.1,152.4 L498.5,152.5 L498.8,152.4 L499.1,152.0 L499.5,151.4 L499.8,150.7 L500.2,149.7 L500.5,148.5 L500.9,147.3 L501.2,145.9 L501.6,144.4 L501.9,142.9 L502.3,141.4 L502.6,139.8 L502.9,138.3 L503.3,136.9 L503.6,135.6 L504.0,134.4 L504.3,133.4 L504.7,132.5 L505.0,131.8 L505.4,131.3 L505.7,131.1 L506.1,131.0 L506.4,131.1 L506.7,131.5 L507.1,132.0 L507.4,132.8 L507.8,133.7 L508.1,134.7 L508.5,135.9 L508.8,137.2 L509.2,138.6 L509.5,140.0 L509.9,141.5 L510.2,142.9 L510.5,144.3 L510.9,145.7 L511.2,146.9 L511.6,148.1 L511.9,149.1 L512.3,149.9 L512.6,150.6 L513.0,151.1 L513.3,151.4 L513.7,151.5 L514.0,151.3 L514.4,151.0 L514.7,150.5 L515.0,149.8 L515.4,149.0 L515.7,148.0 L516.1,146.9 L516.4,145.7 L516.8,144.4 L517.1,143.1 L517.5,141.7 L517.8,140.4 L518.2,139.1 L518.5,137.8 L518.8,136.6 L519.2,135.6 L519.5,134.6 L519.9,133.8 L520.2,133.2 L520.6,132.8 L520.9,132.5 L521.3,132.4 L521.6,132.5 L522.0,132.8 L522.3,133.2 L522.6,133.9 L523.0,134.6 L523.3,135.5 L523.7,136.6 L524.0,137.7 L524.4,138.9 L524.7,140.1 L525.1,141.4 L525.4,142.6 L525.8,143.8 L526.1,145.0 L526.4,146.1 L526.8,147.1 L527.1,148.0 L527.5,148.7 L527.8,149.3 L528.2,149.7 L528.5,150.0 L528.9,150.1 L529.2,150.0 L529.6,149.7 L529.9,149.3 L530.2,148.8 L530.6,148.1 L530.9,147.2 L531.3,146.3 L531.6,145.3 L532.0,144.2 L532.3,143.0 L532.7,141.9 L533.0,140.7 L533.4,139.6 L533.7,138.5 L534.0,137.5 L534.4,136.6 L534.7,135.8 L535.1,135.1" stroke="#00ff00" stroke-width="0.9" stroke-dasharray="5.5 2.5"/>
</g>
<rect x="210.6" y="1.5" width="323.3" height="264.2" fill="none" stroke="#3a3a3a" stroke-width="1.1"/>
<path d="M243.4,265.7v-4.5M243.4,1.5v4.5M278.0,265.7v-4.5M278.0,1.5v4.5M312.5,265.7v-4.5M312.5,1.5v4.5M347.1,265.7v-4.5M347.1,1.5v4.5M381.6,265.7v-4.5M381.6,1.5v4.5M416.2,265.7v-4.5M416.2,1.5v4.5M450.8,265.7v-4.5M450.8,1.5v4.5M485.3,265.7v-4.5M485.3,1.5v4.5M519.9,265.7v-4.5M519.9,1.5v4.5M210.6,238.7h4.5M533.9,238.7h-4.5M210.6,202.8h4.5M533.9,202.8h-4.5M210.6,166.9h4.5M533.9,166.9h-4.5M210.6,131.0h4.5M533.9,131.0h-4.5M210.6,95.1h4.5M533.9,95.1h-4.5M210.6,59.2h4.5M533.9,59.2h-4.5M210.6,23.3h4.5M533.9,23.3h-4.5" stroke="#333" stroke-width="1" fill="none"/>
<text class="tk" x="243.8" y="277.5" text-anchor="middle">4</text>
<text class="tk" x="278.4" y="277.5" text-anchor="middle">5</text>
<text class="tk" x="312.9" y="277.5" text-anchor="middle">6</text>
<text class="tk" x="347.5" y="277.5" text-anchor="middle">7</text>
<text class="tk" x="382.0" y="277.5" text-anchor="middle">8</text>
<text class="tk" x="416.6" y="277.5" text-anchor="middle">9</text>
<text class="tk" x="451.2" y="277.5" text-anchor="middle">10</text>
<text class="tk" x="485.7" y="277.5" text-anchor="middle">11</text>
<text class="tk" x="520.3" y="277.5" text-anchor="middle">12</text>
<text class="tk" x="207.4" y="242.6" text-anchor="end">0.1</text>
<text class="tk" x="207.4" y="206.7" text-anchor="end">0.2</text>
<text class="tk" x="207.4" y="170.8" text-anchor="end">0.3</text>
<text class="tk" x="207.4" y="134.9" text-anchor="end">0.4</text>
<text class="tk" x="207.4" y="99.0" text-anchor="end">0.5</text>
<text class="tk" x="207.4" y="63.1" text-anchor="end">0.6</text>
<text class="tk" x="207.4" y="27.2" text-anchor="end">0.7</text>
<text class="tk" x="536.3" y="276.5">x 10<tspan dy="-6" font-size="7px">-3</tspan></text>
<text class="lb" transform="translate(180.5,111.8) rotate(-90)">V<tspan dx="-2.2" dy="6.6" font-size="11.2px" stroke="#1a1a1a" stroke-width="0.35">S</tspan><tspan dx="2.2" dy="-6.6">&#160;&#160;(in V)</tspan></text>
<rect x="383" y="6.3" width="144.9" height="52.6" fill="#fff" stroke="#222" stroke-width="1"/>
<path d="M390.5,22.2H421.5" stroke="#4a4aff" stroke-width="1"/>
<path d="M390.5,41H421.5" stroke="#40ff40" stroke-width="1" stroke-dasharray="5.5 2.5"/>
<text class="lg" x="432.2" y="26.6">Experimentation</text>
<text class="lg" x="432.2" y="45.3">Simulation</text>
</g>
</svg></body></html>
